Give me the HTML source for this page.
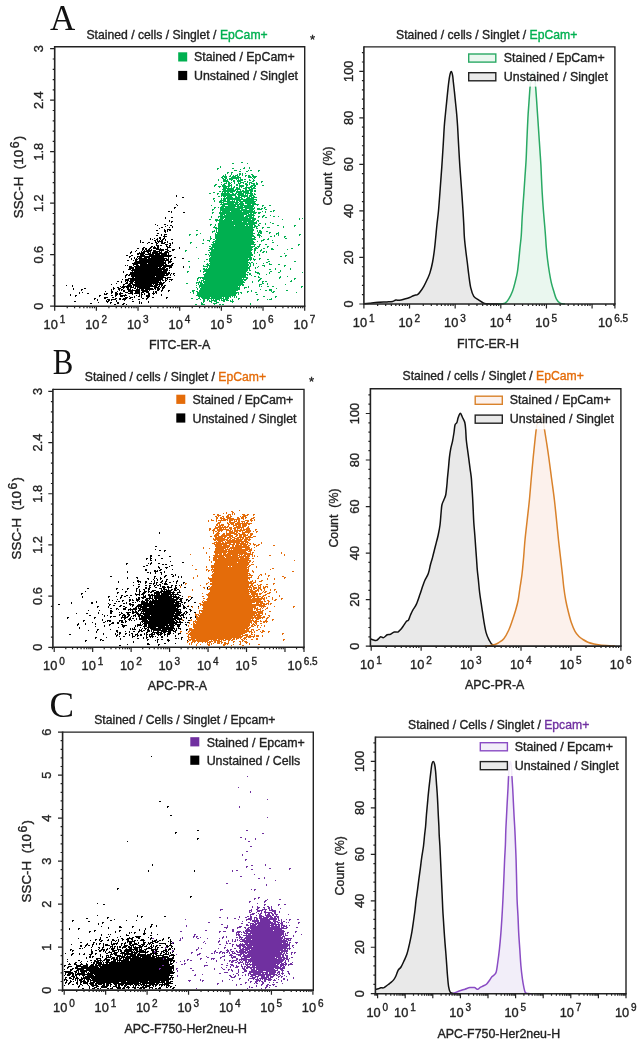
<!DOCTYPE html>
<html><head><meta charset="utf-8"><style>
html,body{margin:0;padding:0;background:#fff;}
body{width:639px;height:1042px;overflow:hidden;}
svg{display:block;filter:blur(0.35px);}
text{font-family:"Liberation Sans",sans-serif;stroke:#222;stroke-width:0.35px;}
.serif{font-family:"Liberation Serif",serif;stroke:none;}
</style></head><body>
<svg width="639" height="1042" viewBox="0 0 639 1042">
<rect width="639" height="1042" fill="#fff"/>
<text class="serif" x="50" y="30" font-size="35" fill="#111" font-family="Liberation Serif, serif" stroke="none">A</text>
<text class="serif" transform="translate(52.8 374.4) scale(0.88 1)" x="0" y="0" font-size="35" fill="#111" font-family="Liberation Serif, serif" stroke="none">B</text>
<text class="serif" transform="translate(49.6 716.6) scale(1.05 1)" x="0" y="0" font-size="35" fill="#111" font-family="Liberation Serif, serif" stroke="none">C</text>
<text x="86.44" y="38.6" font-size="12.2" fill="#222"><tspan fill="#222" stroke="#222">Stained / cells / Singlet / </tspan><tspan fill="#00b050" stroke="#00b050">EpCam+</tspan></text>
<text x="396.04" y="38.8" font-size="12.2" fill="#222"><tspan fill="#222" stroke="#222">Stained / cells / Singlet / </tspan><tspan fill="#00b050" stroke="#00b050">EpCam+</tspan></text>
<text x="84.84" y="380.8" font-size="12.2" fill="#222"><tspan fill="#222" stroke="#222">Stained / cells / Singlet / </tspan><tspan fill="#e46c0a" stroke="#e46c0a">EpCam+</tspan></text>
<text x="402.54" y="380.2" font-size="12.2" fill="#222"><tspan fill="#222" stroke="#222">Stained / cells / Singlet / </tspan><tspan fill="#e46c0a" stroke="#e46c0a">EpCam+</tspan></text>
<text x="94.24" y="724" font-size="12.2" fill="#222"><tspan fill="#222" stroke="#222">Stained / Cells / Singlet / Epcam+</tspan></text>
<text x="408.04" y="728.9" font-size="12.2" fill="#222"><tspan fill="#222" stroke="#222">Stained / Cells / Singlet / </tspan><tspan fill="#7030a0" stroke="#7030a0">Epcam+</tspan></text>
<text x="309.9" y="43.8" font-size="13" fill="#222">*</text>
<text x="309" y="386.4" font-size="13" fill="#222">*</text>
<path d="M176 195h1v1h-1zM176 196h1v1h-1zM182 197h2v1h-2zM176 204h1v1h-1zM177 205h1v1h-1zM174 207h2v1h-2zM174 208h1v1h-1zM168 211h2v1h-2zM171 211h1v1h-1zM171 212h1v1h-1zM183 212h2v1h-2zM165 217h1v1h-1zM171 217h2v1h-2zM165 218h1v1h-1zM169 220h1v1h-1zM169 221h1v1h-1zM171 221h2v1h-2zM171 222h1v1h-1zM155 224h1v1h-1zM164 224h2v1h-2zM157 225h1v1h-1zM167 225h1v1h-1zM170 225h2v1h-2zM165 226h1v1h-1zM172 226h1v1h-1zM161 227h2v1h-2zM169 227h1v1h-1zM172 227h1v1h-1zM159 228h1v1h-1zM164 229h1v1h-1zM167 229h4v1h-4zM156 230h2v1h-2zM164 230h2v1h-2zM167 230h1v1h-1zM169 230h2v1h-2zM164 231h2v1h-2zM167 231h1v1h-1zM165 232h1v1h-1zM157 233h2v1h-2zM161 234h1v1h-1zM164 234h3v1h-3zM156 235h2v1h-2zM161 235h1v1h-1zM164 235h1v1h-1zM163 236h4v1h-4zM159 237h2v1h-2zM164 237h1v1h-1zM150 238h1v1h-1zM154 238h1v1h-1zM157 238h1v1h-1zM159 238h2v1h-2zM163 238h2v1h-2zM150 239h1v1h-1zM152 239h1v1h-1zM156 239h2v1h-2zM160 239h1v1h-1zM162 239h2v1h-2zM165 239h1v1h-1zM171 239h2v1h-2zM140 240h1v1h-1zM154 240h2v1h-2zM157 240h1v1h-1zM159 240h1v1h-1zM161 240h2v1h-2zM165 240h1v1h-1zM140 241h1v1h-1zM155 241h1v1h-1zM157 241h6v1h-6zM167 241h1v1h-1zM140 242h1v1h-1zM142 242h2v1h-2zM148 242h2v1h-2zM155 242h2v1h-2zM158 242h1v1h-1zM161 242h2v1h-2zM164 242h2v1h-2zM167 242h1v1h-1zM172 242h1v1h-1zM147 243h1v1h-1zM151 243h2v1h-2zM156 243h2v1h-2zM161 243h4v1h-4zM169 243h2v1h-2zM172 243h1v1h-1zM156 244h1v1h-1zM165 244h3v1h-3zM170 244h1v1h-1zM156 245h3v1h-3zM160 245h2v1h-2zM166 245h1v1h-1zM169 245h2v1h-2zM151 246h2v1h-2zM154 246h1v1h-1zM157 246h2v1h-2zM166 246h2v1h-2zM169 246h1v1h-1zM143 247h2v1h-2zM150 247h2v1h-2zM153 247h3v1h-3zM157 247h2v1h-2zM167 247h4v1h-4zM179 247h1v1h-1zM137 248h2v1h-2zM142 248h2v1h-2zM145 248h2v1h-2zM149 248h2v1h-2zM153 248h6v1h-6zM160 248h1v1h-1zM167 248h1v1h-1zM179 248h1v1h-1zM142 249h2v1h-2zM145 249h2v1h-2zM148 249h2v1h-2zM151 249h1v1h-1zM156 249h8v1h-8zM165 249h3v1h-3zM172 249h3v1h-3zM136 250h1v1h-1zM142 250h1v1h-1zM144 250h1v1h-1zM146 250h6v1h-6zM153 250h3v1h-3zM159 250h5v1h-5zM167 250h2v1h-2zM172 250h2v1h-2zM131 251h1v1h-1zM135 251h1v1h-1zM141 251h1v1h-1zM143 251h8v1h-8zM153 251h7v1h-7zM161 251h1v1h-1zM165 251h3v1h-3zM169 251h2v1h-2zM130 252h2v1h-2zM139 252h1v1h-1zM141 252h4v1h-4zM147 252h2v1h-2zM150 252h1v1h-1zM152 252h6v1h-6zM159 252h3v1h-3zM164 252h5v1h-5zM130 253h1v1h-1zM137 253h8v1h-8zM148 253h3v1h-3zM152 253h15v1h-15zM168 253h1v1h-1zM137 254h2v1h-2zM140 254h4v1h-4zM145 254h9v1h-9zM155 254h5v1h-5zM161 254h6v1h-6zM168 254h1v1h-1zM126 255h2v1h-2zM131 255h2v1h-2zM140 255h5v1h-5zM149 255h23v1h-23zM129 256h2v1h-2zM137 256h34v1h-34zM129 257h1v1h-1zM134 257h1v1h-1zM137 257h1v1h-1zM139 257h3v1h-3zM144 257h6v1h-6zM151 257h13v1h-13zM168 257h1v1h-1zM174 257h2v1h-2zM131 258h1v1h-1zM134 258h1v1h-1zM136 258h1v1h-1zM138 258h9v1h-9zM148 258h19v1h-19zM168 258h1v1h-1zM171 258h1v1h-1zM182 258h2v1h-2zM131 259h1v1h-1zM135 259h3v1h-3zM139 259h26v1h-26zM166 259h3v1h-3zM170 259h2v1h-2zM127 260h2v1h-2zM133 260h1v1h-1zM135 260h2v1h-2zM139 260h30v1h-30zM170 260h1v1h-1zM135 261h29v1h-29zM165 261h1v1h-1zM168 261h4v1h-4zM134 262h32v1h-32zM168 262h3v1h-3zM132 263h15v1h-15zM148 263h18v1h-18zM168 263h1v1h-1zM172 263h2v1h-2zM133 264h5v1h-5zM140 264h24v1h-24zM165 264h2v1h-2zM171 264h2v1h-2zM125 265h1v1h-1zM127 265h1v1h-1zM133 265h1v1h-1zM136 265h3v1h-3zM140 265h33v1h-33zM129 266h3v1h-3zM134 266h28v1h-28zM163 266h9v1h-9zM183 266h1v1h-1zM129 267h5v1h-5zM135 267h23v1h-23zM159 267h2v1h-2zM162 267h4v1h-4zM169 267h3v1h-3zM183 267h1v1h-1zM129 268h5v1h-5zM135 268h30v1h-30zM166 268h2v1h-2zM169 268h1v1h-1zM128 269h3v1h-3zM132 269h36v1h-36zM131 270h31v1h-31zM163 270h5v1h-5zM169 270h1v1h-1zM123 271h1v1h-1zM132 271h1v1h-1zM134 271h33v1h-33zM123 272h1v1h-1zM130 272h37v1h-37zM168 272h2v1h-2zM130 273h40v1h-40zM171 273h1v1h-1zM173 273h2v1h-2zM126 274h2v1h-2zM129 274h36v1h-36zM166 274h3v1h-3zM170 274h1v1h-1zM173 274h1v1h-1zM125 275h2v1h-2zM128 275h2v1h-2zM131 275h37v1h-37zM170 275h1v1h-1zM174 275h1v1h-1zM125 276h1v1h-1zM131 276h24v1h-24zM156 276h8v1h-8zM125 277h1v1h-1zM132 277h2v1h-2zM135 277h31v1h-31zM167 277h4v1h-4zM128 278h35v1h-35zM165 278h3v1h-3zM122 279h1v1h-1zM125 279h4v1h-4zM130 279h33v1h-33zM165 279h1v1h-1zM167 279h1v1h-1zM169 279h4v1h-4zM125 280h4v1h-4zM130 280h31v1h-31zM162 280h2v1h-2zM165 280h2v1h-2zM171 280h1v1h-1zM117 281h2v1h-2zM121 281h1v1h-1zM125 281h1v1h-1zM127 281h1v1h-1zM129 281h5v1h-5zM135 281h24v1h-24zM160 281h1v1h-1zM165 281h1v1h-1zM169 281h1v1h-1zM121 282h1v1h-1zM126 282h2v1h-2zM130 282h3v1h-3zM134 282h28v1h-28zM163 282h2v1h-2zM116 283h1v1h-1zM125 283h3v1h-3zM129 283h4v1h-4zM135 283h23v1h-23zM159 283h5v1h-5zM111 284h1v1h-1zM123 284h2v1h-2zM128 284h3v1h-3zM132 284h20v1h-20zM153 284h1v1h-1zM155 284h8v1h-8zM66 285h1v1h-1zM72 285h1v1h-1zM123 285h1v1h-1zM127 285h5v1h-5zM133 285h20v1h-20zM154 285h4v1h-4zM159 285h1v1h-1zM161 285h2v1h-2zM164 285h2v1h-2zM72 286h1v1h-1zM120 286h1v1h-1zM122 286h10v1h-10zM133 286h1v1h-1zM135 286h22v1h-22zM158 286h2v1h-2zM161 286h1v1h-1zM163 286h2v1h-2zM113 287h1v1h-1zM117 287h2v1h-2zM121 287h4v1h-4zM126 287h3v1h-3zM130 287h4v1h-4zM135 287h1v1h-1zM137 287h13v1h-13zM154 287h5v1h-5zM160 287h1v1h-1zM162 287h3v1h-3zM73 288h1v1h-1zM84 288h2v1h-2zM113 288h2v1h-2zM118 288h3v1h-3zM123 288h1v1h-1zM127 288h2v1h-2zM130 288h1v1h-1zM134 288h2v1h-2zM137 288h1v1h-1zM139 288h14v1h-14zM154 288h2v1h-2zM157 288h3v1h-3zM162 288h2v1h-2zM73 289h1v1h-1zM81 289h2v1h-2zM111 289h1v1h-1zM113 289h1v1h-1zM118 289h2v1h-2zM121 289h2v1h-2zM127 289h4v1h-4zM132 289h1v1h-1zM136 289h4v1h-4zM141 289h3v1h-3zM145 289h9v1h-9zM155 289h1v1h-1zM157 289h3v1h-3zM162 289h1v1h-1zM81 290h1v1h-1zM111 290h1v1h-1zM119 290h1v1h-1zM121 290h1v1h-1zM123 290h2v1h-2zM128 290h12v1h-12zM141 290h7v1h-7zM149 290h1v1h-1zM157 290h2v1h-2zM161 290h2v1h-2zM168 290h2v1h-2zM105 291h1v1h-1zM111 291h2v1h-2zM117 291h1v1h-1zM123 291h2v1h-2zM128 291h5v1h-5zM135 291h5v1h-5zM142 291h7v1h-7zM153 291h1v1h-1zM155 291h2v1h-2zM161 291h1v1h-1zM168 291h1v1h-1zM79 292h1v1h-1zM82 292h1v1h-1zM111 292h2v1h-2zM115 292h2v1h-2zM120 292h1v1h-1zM125 292h3v1h-3zM130 292h3v1h-3zM135 292h5v1h-5zM141 292h3v1h-3zM146 292h3v1h-3zM153 292h1v1h-1zM155 292h2v1h-2zM79 293h1v1h-1zM87 293h2v1h-2zM104 293h1v1h-1zM106 293h2v1h-2zM111 293h1v1h-1zM115 293h3v1h-3zM119 293h4v1h-4zM128 293h5v1h-5zM134 293h6v1h-6zM141 293h1v1h-1zM144 293h1v1h-1zM148 293h2v1h-2zM152 293h3v1h-3zM156 293h1v1h-1zM70 294h1v1h-1zM104 294h3v1h-3zM115 294h3v1h-3zM119 294h2v1h-2zM125 294h1v1h-1zM132 294h1v1h-1zM139 294h1v1h-1zM141 294h2v1h-2zM144 294h1v1h-1zM148 294h2v1h-2zM153 294h1v1h-1zM161 294h1v1h-1zM70 295h1v1h-1zM75 295h2v1h-2zM99 295h2v1h-2zM111 295h2v1h-2zM115 295h2v1h-2zM120 295h7v1h-7zM136 295h1v1h-1zM139 295h1v1h-1zM141 295h1v1h-1zM146 295h4v1h-4zM161 295h1v1h-1zM75 296h1v1h-1zM99 296h1v1h-1zM115 296h1v1h-1zM120 296h3v1h-3zM124 296h1v1h-1zM129 296h1v1h-1zM134 296h1v1h-1zM138 296h2v1h-2zM141 296h1v1h-1zM146 296h4v1h-4zM104 297h4v1h-4zM112 297h2v1h-2zM125 297h3v1h-3zM130 297h3v1h-3zM134 297h1v1h-1zM141 297h1v1h-1zM147 297h2v1h-2zM152 297h2v1h-2zM166 297h2v1h-2zM94 298h2v1h-2zM104 298h2v1h-2zM115 298h2v1h-2zM119 298h2v1h-2zM123 298h4v1h-4zM129 298h2v1h-2zM142 298h2v1h-2zM146 298h2v1h-2zM166 298h1v1h-1zM94 299h1v1h-1zM97 299h1v1h-1zM107 299h3v1h-3zM111 299h5v1h-5zM119 299h2v1h-2zM122 299h4v1h-4zM132 299h1v1h-1zM138 299h2v1h-2zM146 299h1v1h-1zM97 300h1v1h-1zM106 300h1v1h-1zM108 300h2v1h-2zM111 300h1v1h-1zM116 300h1v1h-1zM124 300h1v1h-1zM74 301h2v1h-2zM106 301h3v1h-3zM116 301h1v1h-1zM132 301h2v1h-2zM139 301h1v1h-1zM148 301h1v1h-1zM98 302h1v1h-1zM107 302h1v1h-1zM110 302h2v1h-2zM117 302h2v1h-2zM139 302h1v1h-1zM141 302h1v1h-1zM148 302h1v1h-1zM90 303h2v1h-2zM110 303h1v1h-1zM117 303h2v1h-2zM123 303h2v1h-2zM139 303h1v1h-1zM141 303h1v1h-1zM114 304h2v1h-2zM122 304h2v1h-2zM126 304h1v1h-1z" fill="#000" shape-rendering="crispEdges"/>
<path d="M241 162h2v1h-2zM232 163h2v1h-2zM247 163h1v1h-1zM220 166h1v1h-1zM220 167h1v1h-1zM244 167h1v1h-1zM249 167h1v1h-1zM217 168h2v1h-2zM232 168h2v1h-2zM243 168h2v1h-2zM249 168h1v1h-1zM217 169h1v1h-1zM240 169h1v1h-1zM234 170h3v1h-3zM248 170h1v1h-1zM250 170h2v1h-2zM258 170h2v1h-2zM239 171h2v1h-2zM246 171h2v1h-2zM258 171h1v1h-1zM227 172h2v1h-2zM231 172h2v1h-2zM227 173h1v1h-1zM231 173h1v1h-1zM239 173h2v1h-2zM242 173h1v1h-1zM245 173h1v1h-1zM225 174h1v1h-1zM231 174h1v1h-1zM237 174h1v1h-1zM239 174h2v1h-2zM242 174h1v1h-1zM251 174h2v1h-2zM223 175h1v1h-1zM225 175h1v1h-1zM230 175h1v1h-1zM233 175h1v1h-1zM235 175h3v1h-3zM239 175h1v1h-1zM242 175h1v1h-1zM245 175h2v1h-2zM248 175h2v1h-2zM252 175h2v1h-2zM222 176h5v1h-5zM229 176h2v1h-2zM232 176h4v1h-4zM237 176h2v1h-2zM245 176h1v1h-1zM248 176h3v1h-3zM252 176h5v1h-5zM221 177h2v1h-2zM224 177h3v1h-3zM231 177h10v1h-10zM248 177h4v1h-4zM253 177h3v1h-3zM222 178h2v1h-2zM225 178h2v1h-2zM229 178h10v1h-10zM240 178h1v1h-1zM252 178h1v1h-1zM254 178h1v1h-1zM218 179h1v1h-1zM223 179h3v1h-3zM227 179h1v1h-1zM229 179h4v1h-4zM236 179h1v1h-1zM238 179h1v1h-1zM240 179h3v1h-3zM244 179h2v1h-2zM249 179h1v1h-1zM253 179h1v1h-1zM218 180h1v1h-1zM223 180h5v1h-5zM231 180h1v1h-1zM233 180h2v1h-2zM237 180h6v1h-6zM249 180h2v1h-2zM253 180h2v1h-2zM223 181h6v1h-6zM233 181h2v1h-2zM237 181h4v1h-4zM244 181h2v1h-2zM247 181h1v1h-1zM252 181h2v1h-2zM261 181h2v1h-2zM221 182h1v1h-1zM226 182h1v1h-1zM228 182h2v1h-2zM231 182h1v1h-1zM234 182h1v1h-1zM238 182h1v1h-1zM240 182h4v1h-4zM247 182h1v1h-1zM249 182h3v1h-3zM256 182h1v1h-1zM261 182h1v1h-1zM224 183h3v1h-3zM228 183h3v1h-3zM234 183h1v1h-1zM238 183h3v1h-3zM243 183h1v1h-1zM245 183h2v1h-2zM249 183h1v1h-1zM251 183h4v1h-4zM256 183h2v1h-2zM215 184h2v1h-2zM221 184h1v1h-1zM223 184h2v1h-2zM228 184h2v1h-2zM231 184h1v1h-1zM236 184h2v1h-2zM239 184h1v1h-1zM245 184h3v1h-3zM249 184h1v1h-1zM253 184h2v1h-2zM256 184h2v1h-2zM214 185h2v1h-2zM222 185h4v1h-4zM228 185h4v1h-4zM236 185h2v1h-2zM239 185h5v1h-5zM246 185h2v1h-2zM251 185h5v1h-5zM262 185h2v1h-2zM214 186h1v1h-1zM218 186h3v1h-3zM222 186h8v1h-8zM231 186h1v1h-1zM234 186h1v1h-1zM239 186h5v1h-5zM246 186h1v1h-1zM250 186h3v1h-3zM254 186h2v1h-2zM219 187h1v1h-1zM223 187h4v1h-4zM228 187h1v1h-1zM231 187h1v1h-1zM233 187h2v1h-2zM236 187h2v1h-2zM239 187h1v1h-1zM241 187h1v1h-1zM245 187h7v1h-7zM253 187h2v1h-2zM223 188h11v1h-11zM236 188h4v1h-4zM243 188h4v1h-4zM248 188h2v1h-2zM251 188h5v1h-5zM222 189h4v1h-4zM227 189h7v1h-7zM235 189h6v1h-6zM245 189h2v1h-2zM249 189h4v1h-4zM223 190h13v1h-13zM237 190h1v1h-1zM240 190h1v1h-1zM242 190h2v1h-2zM245 190h8v1h-8zM254 190h2v1h-2zM219 191h2v1h-2zM222 191h13v1h-13zM236 191h13v1h-13zM250 191h3v1h-3zM254 191h2v1h-2zM213 192h2v1h-2zM222 192h1v1h-1zM224 192h2v1h-2zM227 192h2v1h-2zM230 192h3v1h-3zM236 192h6v1h-6zM243 192h6v1h-6zM250 192h2v1h-2zM209 193h2v1h-2zM217 193h2v1h-2zM221 193h9v1h-9zM232 193h2v1h-2zM235 193h2v1h-2zM238 193h6v1h-6zM245 193h8v1h-8zM254 193h1v1h-1zM217 194h1v1h-1zM221 194h15v1h-15zM237 194h7v1h-7zM245 194h1v1h-1zM247 194h1v1h-1zM250 194h3v1h-3zM254 194h2v1h-2zM221 195h15v1h-15zM238 195h10v1h-10zM249 195h5v1h-5zM218 196h2v1h-2zM221 196h1v1h-1zM223 196h3v1h-3zM227 196h5v1h-5zM235 196h2v1h-2zM238 196h2v1h-2zM241 196h7v1h-7zM249 196h3v1h-3zM253 196h2v1h-2zM224 197h1v1h-1zM226 197h7v1h-7zM235 197h7v1h-7zM244 197h1v1h-1zM247 197h3v1h-3zM251 197h6v1h-6zM213 198h2v1h-2zM221 198h1v1h-1zM223 198h17v1h-17zM241 198h2v1h-2zM246 198h8v1h-8zM213 199h1v1h-1zM221 199h1v1h-1zM223 199h3v1h-3zM227 199h30v1h-30zM214 200h1v1h-1zM220 200h6v1h-6zM227 200h3v1h-3zM232 200h1v1h-1zM234 200h1v1h-1zM236 200h5v1h-5zM243 200h11v1h-11zM256 200h1v1h-1zM214 201h1v1h-1zM219 201h3v1h-3zM223 201h12v1h-12zM236 201h2v1h-2zM239 201h17v1h-17zM219 202h5v1h-5zM227 202h12v1h-12zM240 202h3v1h-3zM245 202h10v1h-10zM221 203h1v1h-1zM223 203h11v1h-11zM235 203h3v1h-3zM239 203h5v1h-5zM245 203h11v1h-11zM220 204h24v1h-24zM247 204h4v1h-4zM252 204h7v1h-7zM211 205h1v1h-1zM222 205h3v1h-3zM228 205h8v1h-8zM237 205h2v1h-2zM240 205h14v1h-14zM257 205h1v1h-1zM262 205h2v1h-2zM269 205h2v1h-2zM221 206h22v1h-22zM244 206h10v1h-10zM262 206h1v1h-1zM214 207h2v1h-2zM218 207h1v1h-1zM220 207h4v1h-4zM225 207h10v1h-10zM237 207h16v1h-16zM254 207h1v1h-1zM264 207h2v1h-2zM214 208h1v1h-1zM220 208h23v1h-23zM245 208h10v1h-10zM257 208h3v1h-3zM261 208h2v1h-2zM264 208h1v1h-1zM212 209h2v1h-2zM220 209h20v1h-20zM241 209h6v1h-6zM249 209h5v1h-5zM257 209h5v1h-5zM265 209h2v1h-2zM212 210h1v1h-1zM220 210h33v1h-33zM254 210h1v1h-1zM273 210h2v1h-2zM220 211h1v1h-1zM222 211h8v1h-8zM231 211h11v1h-11zM243 211h12v1h-12zM262 211h1v1h-1zM265 211h1v1h-1zM270 211h2v1h-2zM273 211h1v1h-1zM212 212h2v1h-2zM219 212h38v1h-38zM258 212h3v1h-3zM265 212h1v1h-1zM212 213h1v1h-1zM219 213h30v1h-30zM250 213h2v1h-2zM253 213h3v1h-3zM258 213h2v1h-2zM220 214h5v1h-5zM226 214h21v1h-21zM248 214h6v1h-6zM220 215h3v1h-3zM224 215h20v1h-20zM246 215h9v1h-9zM263 215h2v1h-2zM270 215h1v1h-1zM211 216h1v1h-1zM218 216h26v1h-26zM245 216h7v1h-7zM253 216h1v1h-1zM258 216h2v1h-2zM262 216h2v1h-2zM273 216h2v1h-2zM278 216h1v1h-1zM211 217h1v1h-1zM218 217h1v1h-1zM220 217h28v1h-28zM249 217h5v1h-5zM258 217h1v1h-1zM262 217h1v1h-1zM265 217h2v1h-2zM220 218h4v1h-4zM225 218h31v1h-31zM299 218h1v1h-1zM302 218h1v1h-1zM209 219h2v1h-2zM215 219h3v1h-3zM219 219h4v1h-4zM224 219h27v1h-27zM252 219h4v1h-4zM282 219h1v1h-1zM299 219h1v1h-1zM215 220h17v1h-17zM233 220h22v1h-22zM257 220h2v1h-2zM216 221h1v1h-1zM219 221h23v1h-23zM243 221h11v1h-11zM256 221h1v1h-1zM258 221h1v1h-1zM219 222h28v1h-28zM248 222h9v1h-9zM270 222h1v1h-1zM218 223h39v1h-39zM259 223h2v1h-2zM265 223h1v1h-1zM272 223h2v1h-2zM210 224h2v1h-2zM215 224h1v1h-1zM218 224h37v1h-37zM258 224h1v1h-1zM265 224h1v1h-1zM210 225h1v1h-1zM215 225h1v1h-1zM218 225h16v1h-16zM235 225h10v1h-10zM246 225h2v1h-2zM249 225h4v1h-4zM254 225h2v1h-2zM258 225h2v1h-2zM277 225h2v1h-2zM294 225h2v1h-2zM214 226h1v1h-1zM218 226h35v1h-35zM254 226h4v1h-4zM283 226h1v1h-1zM294 226h1v1h-1zM213 227h4v1h-4zM218 227h37v1h-37zM256 227h1v1h-1zM262 227h2v1h-2zM267 227h3v1h-3zM283 227h1v1h-1zM215 228h38v1h-38zM256 228h2v1h-2zM262 228h1v1h-1zM216 229h1v1h-1zM218 229h36v1h-36zM196 230h2v1h-2zM214 230h1v1h-1zM216 230h1v1h-1zM218 230h36v1h-36zM257 230h1v1h-1zM259 230h2v1h-2zM212 231h3v1h-3zM216 231h1v1h-1zM218 231h35v1h-35zM257 231h1v1h-1zM259 231h3v1h-3zM266 231h2v1h-2zM212 232h1v1h-1zM216 232h37v1h-37zM258 232h4v1h-4zM269 232h2v1h-2zM278 232h1v1h-1zM200 233h1v1h-1zM215 233h1v1h-1zM217 233h38v1h-38zM258 233h1v1h-1zM260 233h2v1h-2zM269 233h1v1h-1zM276 233h3v1h-3zM189 234h2v1h-2zM196 234h2v1h-2zM215 234h38v1h-38zM257 234h3v1h-3zM276 234h1v1h-1zM278 234h1v1h-1zM299 234h2v1h-2zM189 235h1v1h-1zM196 235h1v1h-1zM215 235h39v1h-39zM257 235h4v1h-4zM274 235h1v1h-1zM278 235h1v1h-1zM299 235h1v1h-1zM210 236h1v1h-1zM215 236h40v1h-40zM259 236h1v1h-1zM261 236h1v1h-1zM270 236h2v1h-2zM274 236h1v1h-1zM284 236h2v1h-2zM210 237h1v1h-1zM215 237h37v1h-37zM254 237h2v1h-2zM259 237h1v1h-1zM284 237h1v1h-1zM210 238h2v1h-2zM215 238h40v1h-40zM268 238h1v1h-1zM285 238h2v1h-2zM203 239h1v1h-1zM210 239h1v1h-1zM213 239h2v1h-2zM216 239h40v1h-40zM263 239h2v1h-2zM267 239h2v1h-2zM203 240h1v1h-1zM207 240h3v1h-3zM215 240h38v1h-38zM261 240h3v1h-3zM272 240h1v1h-1zM209 241h1v1h-1zM213 241h41v1h-41zM257 241h1v1h-1zM261 241h1v1h-1zM190 242h2v1h-2zM212 242h2v1h-2zM215 242h40v1h-40zM272 242h2v1h-2zM190 243h1v1h-1zM202 243h2v1h-2zM213 243h41v1h-41zM211 244h45v1h-45zM259 244h2v1h-2zM265 244h2v1h-2zM298 244h2v1h-2zM212 245h39v1h-39zM254 245h1v1h-1zM259 245h1v1h-1zM277 245h1v1h-1zM298 245h1v1h-1zM209 246h2v1h-2zM212 246h43v1h-43zM257 246h3v1h-3zM267 246h2v1h-2zM196 247h1v1h-1zM211 247h42v1h-42zM255 247h2v1h-2zM258 247h1v1h-1zM267 247h1v1h-1zM209 248h4v1h-4zM214 248h38v1h-38zM254 248h4v1h-4zM263 248h2v1h-2zM271 248h2v1h-2zM291 248h2v1h-2zM210 249h43v1h-43zM254 249h2v1h-2zM261 249h1v1h-1zM271 249h3v1h-3zM287 249h1v1h-1zM185 250h2v1h-2zM208 250h2v1h-2zM211 250h41v1h-41zM254 250h2v1h-2zM260 250h2v1h-2zM185 251h1v1h-1zM211 251h40v1h-40zM254 251h1v1h-1zM260 251h1v1h-1zM263 251h2v1h-2zM266 251h1v1h-1zM209 252h43v1h-43zM254 252h1v1h-1zM257 252h1v1h-1zM262 252h2v1h-2zM266 252h1v1h-1zM210 253h42v1h-42zM254 253h1v1h-1zM284 253h1v1h-1zM205 254h2v1h-2zM208 254h1v1h-1zM210 254h43v1h-43zM259 254h1v1h-1zM209 255h44v1h-44zM259 255h1v1h-1zM285 255h2v1h-2zM209 256h1v1h-1zM211 256h40v1h-40zM254 256h1v1h-1zM280 256h2v1h-2zM285 256h1v1h-1zM210 257h42v1h-42zM198 258h1v1h-1zM209 258h39v1h-39zM249 258h3v1h-3zM253 258h1v1h-1zM259 258h2v1h-2zM206 259h2v1h-2zM209 259h43v1h-43zM253 259h3v1h-3zM259 259h1v1h-1zM267 259h2v1h-2zM209 260h40v1h-40zM250 260h1v1h-1zM254 260h1v1h-1zM188 261h2v1h-2zM204 261h1v1h-1zM209 261h39v1h-39zM268 261h2v1h-2zM294 261h2v1h-2zM210 262h40v1h-40zM251 262h2v1h-2zM266 262h2v1h-2zM207 263h1v1h-1zM209 263h39v1h-39zM249 263h2v1h-2zM253 263h1v1h-1zM256 263h1v1h-1zM263 263h1v1h-1zM269 263h1v1h-1zM206 264h3v1h-3zM210 264h39v1h-39zM250 264h1v1h-1zM253 264h1v1h-1zM269 264h3v1h-3zM278 264h2v1h-2zM203 265h1v1h-1zM207 265h42v1h-42zM250 265h1v1h-1zM253 265h1v1h-1zM262 265h3v1h-3zM284 265h2v1h-2zM189 266h1v1h-1zM203 266h5v1h-5zM209 266h39v1h-39zM249 266h2v1h-2zM258 266h1v1h-1zM264 266h1v1h-1zM284 266h1v1h-1zM189 267h1v1h-1zM207 267h1v1h-1zM209 267h41v1h-41zM255 267h1v1h-1zM257 267h1v1h-1zM203 268h2v1h-2zM206 268h1v1h-1zM208 268h42v1h-42zM255 268h1v1h-1zM275 268h1v1h-1zM290 268h1v1h-1zM203 269h45v1h-45zM249 269h1v1h-1zM269 269h2v1h-2zM275 269h1v1h-1zM290 269h1v1h-1zM200 270h1v1h-1zM204 270h44v1h-44zM249 270h2v1h-2zM280 270h1v1h-1zM187 271h2v1h-2zM200 271h1v1h-1zM203 271h44v1h-44zM255 271h1v1h-1zM270 271h2v1h-2zM280 271h1v1h-1zM187 272h1v1h-1zM203 272h1v1h-1zM206 272h40v1h-40zM247 272h2v1h-2zM255 272h4v1h-4zM269 272h1v1h-1zM278 272h2v1h-2zM302 272h1v1h-1zM205 273h41v1h-41zM249 273h2v1h-2zM257 273h3v1h-3zM269 273h1v1h-1zM203 274h45v1h-45zM249 274h2v1h-2zM259 274h1v1h-1zM266 274h1v1h-1zM204 275h42v1h-42zM247 275h1v1h-1zM251 275h1v1h-1zM204 276h42v1h-42zM254 276h2v1h-2zM258 276h1v1h-1zM280 276h1v1h-1zM287 276h1v1h-1zM198 277h50v1h-50zM258 277h2v1h-2zM279 277h2v1h-2zM197 278h2v1h-2zM200 278h1v1h-1zM202 278h40v1h-40zM243 278h1v1h-1zM246 278h2v1h-2zM260 278h2v1h-2zM279 278h1v1h-1zM294 278h2v1h-2zM197 279h1v1h-1zM203 279h44v1h-44zM259 279h2v1h-2zM294 279h1v1h-1zM197 280h1v1h-1zM201 280h3v1h-3zM205 280h38v1h-38zM244 280h2v1h-2zM258 280h2v1h-2zM291 280h1v1h-1zM199 281h1v1h-1zM201 281h1v1h-1zM203 281h41v1h-41zM252 281h1v1h-1zM258 281h1v1h-1zM262 281h2v1h-2zM265 281h2v1h-2zM290 281h2v1h-2zM196 282h6v1h-6zM203 282h42v1h-42zM252 282h1v1h-1zM262 282h1v1h-1zM186 283h2v1h-2zM196 283h1v1h-1zM198 283h1v1h-1zM200 283h3v1h-3zM204 283h39v1h-39zM262 283h2v1h-2zM267 283h1v1h-1zM198 284h1v1h-1zM200 284h44v1h-44zM259 284h3v1h-3zM267 284h1v1h-1zM285 284h1v1h-1zM196 285h1v1h-1zM199 285h42v1h-42zM242 285h2v1h-2zM259 285h1v1h-1zM199 286h39v1h-39zM239 286h1v1h-1zM248 286h1v1h-1zM259 286h1v1h-1zM261 286h1v1h-1zM267 286h2v1h-2zM272 286h2v1h-2zM301 286h2v1h-2zM196 287h1v1h-1zM199 287h1v1h-1zM201 287h39v1h-39zM244 287h3v1h-3zM248 287h1v1h-1zM301 287h1v1h-1zM197 288h1v1h-1zM200 288h40v1h-40zM244 288h1v1h-1zM276 288h1v1h-1zM197 289h1v1h-1zM200 289h40v1h-40zM260 289h1v1h-1zM269 289h3v1h-3zM192 290h3v1h-3zM199 290h39v1h-39zM251 290h1v1h-1zM265 290h2v1h-2zM269 290h3v1h-3zM286 290h2v1h-2zM192 291h2v1h-2zM196 291h2v1h-2zM199 291h37v1h-37zM247 291h2v1h-2zM251 291h1v1h-1zM271 291h1v1h-1zM273 291h2v1h-2zM190 292h1v1h-1zM193 292h1v1h-1zM197 292h42v1h-42zM240 292h2v1h-2zM247 292h1v1h-1zM255 292h2v1h-2zM272 292h2v1h-2zM296 292h1v1h-1zM193 293h1v1h-1zM197 293h40v1h-40zM238 293h1v1h-1zM241 293h1v1h-1zM197 294h39v1h-39zM238 294h1v1h-1zM256 294h2v1h-2zM196 295h40v1h-40zM198 296h33v1h-33zM232 296h1v1h-1zM234 296h1v1h-1zM236 296h1v1h-1zM263 296h2v1h-2zM275 296h2v1h-2zM199 297h1v1h-1zM201 297h9v1h-9zM211 297h11v1h-11zM223 297h1v1h-1zM225 297h4v1h-4zM230 297h1v1h-1zM234 297h1v1h-1zM236 297h1v1h-1zM275 297h1v1h-1zM191 298h2v1h-2zM198 298h2v1h-2zM202 298h22v1h-22zM225 298h4v1h-4zM238 298h2v1h-2zM271 298h1v1h-1zM196 299h2v1h-2zM200 299h1v1h-1zM203 299h2v1h-2zM207 299h2v1h-2zM211 299h1v1h-1zM213 299h1v1h-1zM215 299h5v1h-5zM221 299h1v1h-1zM223 299h5v1h-5zM232 299h1v1h-1zM238 299h1v1h-1zM257 299h2v1h-2zM267 299h1v1h-1zM269 299h3v1h-3zM203 300h2v1h-2zM207 300h1v1h-1zM209 300h1v1h-1zM211 300h6v1h-6zM219 300h1v1h-1zM221 300h4v1h-4zM226 300h3v1h-3zM230 300h1v1h-1zM232 300h1v1h-1zM257 300h1v1h-1zM203 301h2v1h-2zM209 301h3v1h-3zM214 301h3v1h-3zM223 301h2v1h-2zM230 301h4v1h-4zM201 302h1v1h-1zM203 302h1v1h-1zM211 302h1v1h-1zM216 302h3v1h-3zM232 302h1v1h-1zM201 303h2v1h-2zM213 303h4v1h-4zM250 303h1v1h-1zM195 304h2v1h-2zM201 304h4v1h-4zM214 304h1v1h-1zM219 304h2v1h-2zM222 304h2v1h-2zM250 304h1v1h-1z" fill="#00b050" shape-rendering="crispEdges"/>
<path d="M159 532h1v1h-1zM159 533h1v1h-1zM155 546h2v1h-2zM155 549h1v1h-1zM159 550h2v1h-2zM164 550h2v1h-2zM164 551h1v1h-1zM150 555h2v1h-2zM158 555h2v1h-2zM150 556h2v1h-2zM169 556h2v1h-2zM150 557h1v1h-1zM146 558h2v1h-2zM150 558h2v1h-2zM161 558h2v1h-2zM146 559h1v1h-1zM150 559h1v1h-1zM155 559h1v1h-1zM150 560h2v1h-2zM155 560h1v1h-1zM170 561h1v1h-1zM151 562h1v1h-1zM182 562h2v1h-2zM126 563h2v1h-2zM148 563h1v1h-1zM150 563h2v1h-2zM158 563h2v1h-2zM126 564h1v1h-1zM150 564h1v1h-1zM162 564h2v1h-2zM165 564h2v1h-2zM146 565h2v1h-2zM171 565h2v1h-2zM143 566h2v1h-2zM158 566h1v1h-1zM169 566h1v1h-1zM158 567h2v1h-2zM165 567h3v1h-3zM159 568h1v1h-1zM166 568h1v1h-1zM145 569h2v1h-2zM160 569h2v1h-2zM172 569h1v1h-1zM145 570h2v1h-2zM154 570h2v1h-2zM157 570h1v1h-1zM159 570h2v1h-2zM127 571h1v1h-1zM154 571h4v1h-4zM164 571h1v1h-1zM127 572h1v1h-1zM147 572h2v1h-2zM150 572h1v1h-1zM155 572h1v1h-1zM160 572h2v1h-2zM164 572h1v1h-1zM150 573h1v1h-1zM155 573h1v1h-1zM161 573h1v1h-1zM161 574h1v1h-1zM171 574h2v1h-2zM175 574h1v1h-1zM165 575h2v1h-2zM173 575h1v1h-1zM175 575h1v1h-1zM110 576h2v1h-2zM154 576h2v1h-2zM164 576h2v1h-2zM172 576h2v1h-2zM178 576h1v1h-1zM181 576h1v1h-1zM127 577h1v1h-1zM136 577h2v1h-2zM154 577h1v1h-1zM160 577h1v1h-1zM164 577h1v1h-1zM178 577h1v1h-1zM181 577h1v1h-1zM127 578h1v1h-1zM137 578h1v1h-1zM147 578h2v1h-2zM154 578h1v1h-1zM156 578h1v1h-1zM160 578h2v1h-2zM148 579h1v1h-1zM153 579h1v1h-1zM157 579h1v1h-1zM160 579h1v1h-1zM166 579h2v1h-2zM137 580h2v1h-2zM154 580h1v1h-1zM157 580h1v1h-1zM162 580h1v1h-1zM166 580h1v1h-1zM177 580h1v1h-1zM118 581h1v1h-1zM137 581h4v1h-4zM145 581h2v1h-2zM151 581h1v1h-1zM154 581h1v1h-1zM161 581h2v1h-2zM165 581h2v1h-2zM173 581h1v1h-1zM176 581h2v1h-2zM118 582h1v1h-1zM133 582h1v1h-1zM138 582h1v1h-1zM140 582h1v1h-1zM145 582h2v1h-2zM154 582h1v1h-1zM156 582h2v1h-2zM160 582h2v1h-2zM165 582h1v1h-1zM169 582h2v1h-2zM176 582h1v1h-1zM183 582h2v1h-2zM145 583h1v1h-1zM149 583h3v1h-3zM153 583h2v1h-2zM156 583h1v1h-1zM162 583h1v1h-1zM164 583h3v1h-3zM176 583h1v1h-1zM183 583h1v1h-1zM138 584h2v1h-2zM153 584h1v1h-1zM156 584h1v1h-1zM159 584h2v1h-2zM164 584h4v1h-4zM181 584h1v1h-1zM133 585h1v1h-1zM145 585h2v1h-2zM149 585h2v1h-2zM154 585h2v1h-2zM157 585h2v1h-2zM160 585h1v1h-1zM171 585h2v1h-2zM175 585h2v1h-2zM179 585h1v1h-1zM181 585h1v1h-1zM138 586h2v1h-2zM149 586h1v1h-1zM154 586h1v1h-1zM160 586h1v1h-1zM162 586h3v1h-3zM167 586h2v1h-2zM171 586h1v1h-1zM175 586h1v1h-1zM138 587h1v1h-1zM145 587h2v1h-2zM149 587h2v1h-2zM155 587h2v1h-2zM162 587h4v1h-4zM167 587h5v1h-5zM175 587h2v1h-2zM184 587h2v1h-2zM207 587h1v1h-1zM87 588h2v1h-2zM116 588h2v1h-2zM127 588h2v1h-2zM136 588h2v1h-2zM145 588h2v1h-2zM148 588h2v1h-2zM159 588h3v1h-3zM163 588h2v1h-2zM168 588h1v1h-1zM174 588h3v1h-3zM207 588h1v1h-1zM116 589h1v1h-1zM122 589h1v1h-1zM127 589h1v1h-1zM136 589h1v1h-1zM139 589h1v1h-1zM143 589h2v1h-2zM148 589h2v1h-2zM161 589h1v1h-1zM163 589h4v1h-4zM168 589h1v1h-1zM171 589h2v1h-2zM174 589h2v1h-2zM177 589h2v1h-2zM136 590h1v1h-1zM139 590h1v1h-1zM144 590h1v1h-1zM148 590h1v1h-1zM152 590h4v1h-4zM161 590h2v1h-2zM164 590h1v1h-1zM166 590h6v1h-6zM174 590h3v1h-3zM179 590h1v1h-1zM85 591h1v1h-1zM125 591h2v1h-2zM136 591h1v1h-1zM139 591h2v1h-2zM144 591h3v1h-3zM148 591h2v1h-2zM151 591h3v1h-3zM156 591h3v1h-3zM160 591h11v1h-11zM173 591h1v1h-1zM179 591h1v1h-1zM117 592h2v1h-2zM125 592h1v1h-1zM139 592h1v1h-1zM143 592h3v1h-3zM148 592h1v1h-1zM150 592h2v1h-2zM154 592h8v1h-8zM163 592h12v1h-12zM177 592h4v1h-4zM81 593h2v1h-2zM117 593h1v1h-1zM135 593h1v1h-1zM139 593h1v1h-1zM142 593h3v1h-3zM154 593h6v1h-6zM161 593h10v1h-10zM172 593h2v1h-2zM177 593h1v1h-1zM81 594h1v1h-1zM135 594h5v1h-5zM141 594h3v1h-3zM148 594h2v1h-2zM151 594h2v1h-2zM154 594h1v1h-1zM156 594h4v1h-4zM161 594h18v1h-18zM121 595h2v1h-2zM126 595h2v1h-2zM130 595h2v1h-2zM136 595h1v1h-1zM139 595h1v1h-1zM143 595h1v1h-1zM145 595h1v1h-1zM148 595h21v1h-21zM170 595h2v1h-2zM173 595h1v1h-1zM175 595h1v1h-1zM179 595h2v1h-2zM82 596h1v1h-1zM108 596h2v1h-2zM116 596h1v1h-1zM121 596h1v1h-1zM124 596h2v1h-2zM143 596h3v1h-3zM149 596h2v1h-2zM152 596h1v1h-1zM154 596h23v1h-23zM178 596h1v1h-1zM182 596h1v1h-1zM82 597h1v1h-1zM108 597h1v1h-1zM120 597h2v1h-2zM129 597h1v1h-1zM138 597h2v1h-2zM141 597h5v1h-5zM149 597h2v1h-2zM152 597h1v1h-1zM154 597h18v1h-18zM173 597h7v1h-7zM191 597h2v1h-2zM120 598h1v1h-1zM136 598h1v1h-1zM138 598h2v1h-2zM142 598h2v1h-2zM146 598h7v1h-7zM154 598h20v1h-20zM176 598h3v1h-3zM180 598h3v1h-3zM191 598h1v1h-1zM109 599h1v1h-1zM117 599h1v1h-1zM129 599h2v1h-2zM132 599h1v1h-1zM136 599h4v1h-4zM145 599h3v1h-3zM149 599h1v1h-1zM152 599h2v1h-2zM155 599h2v1h-2zM158 599h20v1h-20zM179 599h3v1h-3zM186 599h2v1h-2zM190 599h1v1h-1zM109 600h1v1h-1zM112 600h1v1h-1zM122 600h2v1h-2zM129 600h2v1h-2zM132 600h2v1h-2zM136 600h3v1h-3zM142 600h1v1h-1zM145 600h4v1h-4zM150 600h1v1h-1zM152 600h25v1h-25zM180 600h2v1h-2zM186 600h1v1h-1zM188 600h2v1h-2zM208 600h1v1h-1zM96 601h1v1h-1zM116 601h1v1h-1zM118 601h2v1h-2zM122 601h1v1h-1zM129 601h1v1h-1zM137 601h1v1h-1zM139 601h1v1h-1zM141 601h4v1h-4zM146 601h2v1h-2zM149 601h26v1h-26zM176 601h6v1h-6zM188 601h1v1h-1zM208 601h1v1h-1zM71 602h1v1h-1zM91 602h2v1h-2zM96 602h1v1h-1zM126 602h1v1h-1zM132 602h2v1h-2zM135 602h1v1h-1zM141 602h7v1h-7zM149 602h30v1h-30zM181 602h2v1h-2zM184 602h2v1h-2zM194 602h2v1h-2zM71 603h1v1h-1zM91 603h2v1h-2zM108 603h1v1h-1zM114 603h2v1h-2zM123 603h2v1h-2zM126 603h1v1h-1zM129 603h2v1h-2zM141 603h33v1h-33zM175 603h6v1h-6zM184 603h1v1h-1zM58 604h2v1h-2zM109 604h2v1h-2zM129 604h5v1h-5zM138 604h15v1h-15zM154 604h25v1h-25zM180 604h1v1h-1zM182 604h1v1h-1zM109 605h1v1h-1zM113 605h2v1h-2zM120 605h2v1h-2zM130 605h1v1h-1zM132 605h2v1h-2zM137 605h5v1h-5zM143 605h38v1h-38zM183 605h1v1h-1zM188 605h1v1h-1zM97 606h2v1h-2zM108 606h1v1h-1zM119 606h2v1h-2zM123 606h2v1h-2zM132 606h1v1h-1zM136 606h45v1h-45zM183 606h2v1h-2zM187 606h2v1h-2zM191 606h1v1h-1zM198 606h1v1h-1zM97 607h1v1h-1zM108 607h1v1h-1zM125 607h2v1h-2zM135 607h2v1h-2zM138 607h1v1h-1zM140 607h7v1h-7zM149 607h27v1h-27zM177 607h2v1h-2zM183 607h3v1h-3zM198 607h1v1h-1zM110 608h2v1h-2zM116 608h2v1h-2zM123 608h3v1h-3zM130 608h1v1h-1zM133 608h4v1h-4zM138 608h3v1h-3zM142 608h36v1h-36zM183 608h2v1h-2zM186 608h1v1h-1zM116 609h1v1h-1zM118 609h1v1h-1zM123 609h3v1h-3zM128 609h9v1h-9zM139 609h42v1h-42zM189 609h2v1h-2zM88 610h1v1h-1zM99 610h1v1h-1zM110 610h2v1h-2zM128 610h1v1h-1zM130 610h1v1h-1zM132 610h1v1h-1zM135 610h1v1h-1zM138 610h3v1h-3zM142 610h37v1h-37zM180 610h1v1h-1zM190 610h2v1h-2zM110 611h3v1h-3zM132 611h2v1h-2zM135 611h2v1h-2zM138 611h1v1h-1zM141 611h40v1h-40zM185 611h2v1h-2zM190 611h1v1h-1zM98 612h1v1h-1zM110 612h2v1h-2zM119 612h1v1h-1zM121 612h1v1h-1zM126 612h5v1h-5zM132 612h6v1h-6zM141 612h1v1h-1zM143 612h1v1h-1zM145 612h30v1h-30zM176 612h6v1h-6zM184 612h1v1h-1zM186 612h2v1h-2zM194 612h2v1h-2zM76 613h1v1h-1zM86 613h2v1h-2zM98 613h1v1h-1zM110 613h2v1h-2zM121 613h2v1h-2zM127 613h2v1h-2zM132 613h2v1h-2zM136 613h3v1h-3zM140 613h41v1h-41zM183 613h2v1h-2zM186 613h1v1h-1zM102 614h1v1h-1zM119 614h2v1h-2zM123 614h2v1h-2zM127 614h3v1h-3zM135 614h1v1h-1zM137 614h4v1h-4zM143 614h31v1h-31zM175 614h5v1h-5zM181 614h3v1h-3zM185 614h1v1h-1zM189 614h1v1h-1zM89 615h2v1h-2zM104 615h1v1h-1zM107 615h1v1h-1zM119 615h1v1h-1zM122 615h4v1h-4zM128 615h2v1h-2zM133 615h3v1h-3zM138 615h5v1h-5zM144 615h6v1h-6zM151 615h33v1h-33zM104 616h1v1h-1zM110 616h2v1h-2zM113 616h3v1h-3zM122 616h1v1h-1zM124 616h2v1h-2zM127 616h2v1h-2zM131 616h1v1h-1zM133 616h1v1h-1zM135 616h1v1h-1zM138 616h2v1h-2zM141 616h37v1h-37zM180 616h1v1h-1zM183 616h1v1h-1zM195 616h1v1h-1zM213 616h1v1h-1zM67 617h2v1h-2zM94 617h2v1h-2zM110 617h1v1h-1zM121 617h7v1h-7zM130 617h1v1h-1zM139 617h1v1h-1zM141 617h32v1h-32zM174 617h5v1h-5zM181 617h1v1h-1zM183 617h2v1h-2zM186 617h1v1h-1zM190 617h2v1h-2zM195 617h1v1h-1zM67 618h1v1h-1zM94 618h1v1h-1zM121 618h1v1h-1zM124 618h2v1h-2zM129 618h2v1h-2zM132 618h2v1h-2zM136 618h1v1h-1zM139 618h43v1h-43zM186 618h1v1h-1zM190 618h1v1h-1zM102 619h1v1h-1zM124 619h1v1h-1zM128 619h3v1h-3zM136 619h1v1h-1zM139 619h8v1h-8zM148 619h28v1h-28zM177 619h5v1h-5zM83 620h2v1h-2zM102 620h1v1h-1zM107 620h4v1h-4zM119 620h4v1h-4zM125 620h1v1h-1zM129 620h1v1h-1zM131 620h1v1h-1zM134 620h1v1h-1zM142 620h6v1h-6zM149 620h25v1h-25zM175 620h2v1h-2zM179 620h1v1h-1zM183 620h1v1h-1zM188 620h2v1h-2zM83 621h1v1h-1zM105 621h1v1h-1zM107 621h1v1h-1zM109 621h2v1h-2zM119 621h1v1h-1zM121 621h2v1h-2zM125 621h2v1h-2zM141 621h34v1h-34zM176 621h2v1h-2zM179 621h2v1h-2zM92 622h1v1h-1zM103 622h2v1h-2zM112 622h2v1h-2zM117 622h2v1h-2zM121 622h3v1h-3zM125 622h1v1h-1zM140 622h1v1h-1zM142 622h1v1h-1zM144 622h39v1h-39zM185 622h1v1h-1zM187 622h2v1h-2zM78 623h1v1h-1zM85 623h1v1h-1zM95 623h1v1h-1zM111 623h3v1h-3zM117 623h2v1h-2zM140 623h1v1h-1zM143 623h34v1h-34zM180 623h1v1h-1zM77 624h2v1h-2zM85 624h1v1h-1zM95 624h1v1h-1zM109 624h2v1h-2zM121 624h2v1h-2zM137 624h4v1h-4zM142 624h1v1h-1zM144 624h3v1h-3zM148 624h20v1h-20zM169 624h5v1h-5zM175 624h6v1h-6zM185 624h2v1h-2zM193 624h1v1h-1zM77 625h1v1h-1zM104 625h1v1h-1zM109 625h1v1h-1zM122 625h5v1h-5zM135 625h1v1h-1zM137 625h5v1h-5zM144 625h3v1h-3zM148 625h27v1h-27zM177 625h3v1h-3zM186 625h1v1h-1zM95 626h1v1h-1zM104 626h1v1h-1zM122 626h3v1h-3zM135 626h1v1h-1zM137 626h1v1h-1zM143 626h4v1h-4zM148 626h17v1h-17zM166 626h3v1h-3zM170 626h4v1h-4zM177 626h3v1h-3zM79 627h1v1h-1zM118 627h1v1h-1zM123 627h1v1h-1zM134 627h1v1h-1zM140 627h1v1h-1zM144 627h1v1h-1zM147 627h9v1h-9zM158 627h16v1h-16zM178 627h1v1h-1zM79 628h1v1h-1zM130 628h1v1h-1zM132 628h1v1h-1zM134 628h1v1h-1zM142 628h1v1h-1zM144 628h3v1h-3zM148 628h1v1h-1zM150 628h25v1h-25zM176 628h1v1h-1zM178 628h3v1h-3zM191 628h1v1h-1zM97 629h2v1h-2zM110 629h1v1h-1zM130 629h1v1h-1zM132 629h4v1h-4zM139 629h1v1h-1zM141 629h1v1h-1zM145 629h1v1h-1zM147 629h2v1h-2zM151 629h10v1h-10zM162 629h11v1h-11zM174 629h1v1h-1zM176 629h1v1h-1zM180 629h1v1h-1zM186 629h2v1h-2zM191 629h1v1h-1zM88 630h1v1h-1zM97 630h1v1h-1zM116 630h2v1h-2zM139 630h3v1h-3zM143 630h2v1h-2zM147 630h3v1h-3zM151 630h1v1h-1zM153 630h14v1h-14zM168 630h6v1h-6zM175 630h2v1h-2zM186 630h1v1h-1zM96 631h1v1h-1zM116 631h2v1h-2zM125 631h1v1h-1zM129 631h1v1h-1zM133 631h2v1h-2zM138 631h2v1h-2zM141 631h2v1h-2zM147 631h3v1h-3zM151 631h1v1h-1zM153 631h1v1h-1zM157 631h2v1h-2zM161 631h10v1h-10zM173 631h3v1h-3zM96 632h1v1h-1zM117 632h1v1h-1zM119 632h2v1h-2zM129 632h1v1h-1zM138 632h1v1h-1zM146 632h2v1h-2zM152 632h10v1h-10zM163 632h3v1h-3zM168 632h3v1h-3zM175 632h1v1h-1zM103 633h1v1h-1zM115 633h1v1h-1zM119 633h2v1h-2zM125 633h2v1h-2zM131 633h2v1h-2zM137 633h1v1h-1zM144 633h1v1h-1zM146 633h1v1h-1zM151 633h2v1h-2zM154 633h1v1h-1zM156 633h3v1h-3zM160 633h3v1h-3zM164 633h1v1h-1zM167 633h4v1h-4zM173 633h1v1h-1zM178 633h3v1h-3zM69 634h2v1h-2zM103 634h1v1h-1zM115 634h1v1h-1zM117 634h1v1h-1zM119 634h1v1h-1zM125 634h1v1h-1zM129 634h1v1h-1zM132 634h1v1h-1zM135 634h3v1h-3zM140 634h2v1h-2zM144 634h1v1h-1zM146 634h2v1h-2zM149 634h6v1h-6zM157 634h5v1h-5zM164 634h2v1h-2zM167 634h3v1h-3zM178 634h1v1h-1zM209 634h1v1h-1zM116 635h2v1h-2zM129 635h1v1h-1zM132 635h1v1h-1zM135 635h1v1h-1zM137 635h2v1h-2zM140 635h2v1h-2zM146 635h1v1h-1zM149 635h1v1h-1zM151 635h2v1h-2zM158 635h1v1h-1zM160 635h1v1h-1zM164 635h1v1h-1zM167 635h1v1h-1zM175 635h1v1h-1zM209 635h3v1h-3zM116 636h1v1h-1zM119 636h1v1h-1zM123 636h2v1h-2zM132 636h3v1h-3zM137 636h1v1h-1zM146 636h1v1h-1zM149 636h5v1h-5zM155 636h1v1h-1zM161 636h2v1h-2zM167 636h1v1h-1zM175 636h1v1h-1zM95 637h2v1h-2zM106 637h1v1h-1zM132 637h1v1h-1zM143 637h1v1h-1zM146 637h2v1h-2zM150 637h1v1h-1zM152 637h1v1h-1zM157 637h1v1h-1zM161 637h2v1h-2zM181 637h2v1h-2zM95 638h1v1h-1zM120 638h1v1h-1zM137 638h2v1h-2zM143 638h1v1h-1zM146 638h1v1h-1zM175 638h2v1h-2zM178 638h1v1h-1zM181 638h1v1h-1zM100 639h2v1h-2zM120 639h1v1h-1zM147 639h2v1h-2zM157 639h2v1h-2zM161 639h2v1h-2zM167 639h2v1h-2zM181 639h1v1h-1zM85 640h2v1h-2zM100 640h1v1h-1zM102 640h2v1h-2zM147 640h1v1h-1zM155 640h1v1h-1zM157 640h1v1h-1zM167 640h3v1h-3zM187 640h1v1h-1zM85 641h1v1h-1zM133 641h1v1h-1zM157 641h1v1h-1zM168 641h1v1h-1zM187 641h1v1h-1zM133 642h1v1h-1zM157 642h1v1h-1zM147 643h2v1h-2zM164 643h2v1h-2zM175 643h1v1h-1zM127 644h1v1h-1zM147 644h3v1h-3zM158 644h2v1h-2zM119 645h2v1h-2zM158 645h1v1h-1z" fill="#000" shape-rendering="crispEdges"/>
<path d="M239 510h1v1h-1zM231 511h2v1h-2zM226 512h1v1h-1zM232 512h2v1h-2zM223 513h1v1h-1zM226 513h1v1h-1zM232 513h1v1h-1zM234 513h1v1h-1zM213 514h2v1h-2zM217 514h2v1h-2zM228 514h3v1h-3zM232 514h1v1h-1zM234 514h1v1h-1zM242 514h3v1h-3zM247 514h2v1h-2zM253 514h2v1h-2zM217 515h4v1h-4zM227 515h2v1h-2zM230 515h1v1h-1zM243 515h5v1h-5zM253 515h1v1h-1zM215 516h2v1h-2zM218 516h1v1h-1zM222 516h2v1h-2zM226 516h3v1h-3zM230 516h2v1h-2zM240 516h1v1h-1zM242 516h4v1h-4zM216 517h2v1h-2zM220 517h2v1h-2zM223 517h1v1h-1zM226 517h5v1h-5zM237 517h2v1h-2zM241 517h3v1h-3zM245 517h2v1h-2zM253 517h2v1h-2zM216 518h2v1h-2zM220 518h5v1h-5zM227 518h7v1h-7zM237 518h3v1h-3zM241 518h3v1h-3zM245 518h1v1h-1zM251 518h3v1h-3zM211 519h1v1h-1zM216 519h1v1h-1zM221 519h1v1h-1zM223 519h5v1h-5zM229 519h11v1h-11zM243 519h1v1h-1zM250 519h2v1h-2zM254 519h1v1h-1zM208 520h1v1h-1zM211 520h3v1h-3zM216 520h1v1h-1zM218 520h8v1h-8zM227 520h1v1h-1zM229 520h4v1h-4zM234 520h1v1h-1zM236 520h1v1h-1zM238 520h2v1h-2zM245 520h4v1h-4zM250 520h3v1h-3zM254 520h1v1h-1zM208 521h1v1h-1zM216 521h1v1h-1zM220 521h1v1h-1zM229 521h2v1h-2zM234 521h3v1h-3zM238 521h2v1h-2zM241 521h4v1h-4zM247 521h2v1h-2zM251 521h1v1h-1zM218 522h3v1h-3zM227 522h1v1h-1zM229 522h6v1h-6zM237 522h3v1h-3zM242 522h1v1h-1zM244 522h1v1h-1zM246 522h2v1h-2zM217 523h3v1h-3zM227 523h2v1h-2zM230 523h4v1h-4zM235 523h17v1h-17zM216 524h2v1h-2zM219 524h1v1h-1zM221 524h3v1h-3zM228 524h2v1h-2zM231 524h3v1h-3zM235 524h6v1h-6zM242 524h5v1h-5zM248 524h2v1h-2zM216 525h2v1h-2zM219 525h5v1h-5zM228 525h1v1h-1zM233 525h4v1h-4zM238 525h3v1h-3zM242 525h5v1h-5zM215 526h1v1h-1zM218 526h3v1h-3zM222 526h1v1h-1zM224 526h2v1h-2zM227 526h2v1h-2zM233 526h1v1h-1zM236 526h5v1h-5zM242 526h4v1h-4zM248 526h1v1h-1zM215 527h13v1h-13zM229 527h3v1h-3zM234 527h10v1h-10zM247 527h2v1h-2zM209 528h2v1h-2zM214 528h4v1h-4zM219 528h3v1h-3zM223 528h1v1h-1zM225 528h1v1h-1zM229 528h3v1h-3zM233 528h3v1h-3zM237 528h3v1h-3zM241 528h1v1h-1zM243 528h1v1h-1zM246 528h4v1h-4zM209 529h2v1h-2zM213 529h2v1h-2zM217 529h12v1h-12zM230 529h2v1h-2zM234 529h2v1h-2zM237 529h1v1h-1zM240 529h2v1h-2zM243 529h7v1h-7zM255 529h2v1h-2zM209 530h1v1h-1zM212 530h3v1h-3zM217 530h6v1h-6zM226 530h5v1h-5zM232 530h1v1h-1zM234 530h11v1h-11zM246 530h5v1h-5zM255 530h1v1h-1zM213 531h1v1h-1zM215 531h2v1h-2zM218 531h2v1h-2zM221 531h1v1h-1zM226 531h1v1h-1zM229 531h4v1h-4zM234 531h4v1h-4zM239 531h2v1h-2zM242 531h1v1h-1zM245 531h6v1h-6zM253 531h1v1h-1zM256 531h2v1h-2zM213 532h1v1h-1zM217 532h2v1h-2zM226 532h1v1h-1zM229 532h6v1h-6zM236 532h2v1h-2zM242 532h8v1h-8zM256 532h1v1h-1zM213 533h1v1h-1zM216 533h4v1h-4zM223 533h2v1h-2zM226 533h11v1h-11zM238 533h2v1h-2zM242 533h3v1h-3zM248 533h1v1h-1zM250 533h3v1h-3zM215 534h4v1h-4zM222 534h3v1h-3zM226 534h5v1h-5zM234 534h4v1h-4zM239 534h7v1h-7zM247 534h1v1h-1zM250 534h3v1h-3zM214 535h5v1h-5zM221 535h12v1h-12zM236 535h2v1h-2zM239 535h3v1h-3zM243 535h5v1h-5zM250 535h2v1h-2zM210 536h2v1h-2zM214 536h3v1h-3zM218 536h9v1h-9zM229 536h4v1h-4zM235 536h2v1h-2zM239 536h3v1h-3zM243 536h3v1h-3zM248 536h3v1h-3zM253 536h3v1h-3zM215 537h8v1h-8zM224 537h2v1h-2zM227 537h4v1h-4zM232 537h3v1h-3zM237 537h7v1h-7zM245 537h8v1h-8zM213 538h1v1h-1zM215 538h10v1h-10zM227 538h2v1h-2zM230 538h2v1h-2zM234 538h5v1h-5zM240 538h1v1h-1zM242 538h2v1h-2zM245 538h3v1h-3zM249 538h1v1h-1zM213 539h15v1h-15zM229 539h2v1h-2zM232 539h3v1h-3zM236 539h7v1h-7zM244 539h7v1h-7zM214 540h2v1h-2zM217 540h8v1h-8zM226 540h16v1h-16zM244 540h3v1h-3zM248 540h2v1h-2zM216 541h1v1h-1zM218 541h5v1h-5zM225 541h1v1h-1zM227 541h21v1h-21zM214 542h7v1h-7zM222 542h2v1h-2zM225 542h15v1h-15zM241 542h3v1h-3zM245 542h4v1h-4zM261 542h1v1h-1zM212 543h3v1h-3zM216 543h15v1h-15zM233 543h2v1h-2zM236 543h10v1h-10zM247 543h1v1h-1zM249 543h2v1h-2zM253 543h1v1h-1zM261 543h1v1h-1zM214 544h13v1h-13zM229 544h6v1h-6zM236 544h3v1h-3zM240 544h8v1h-8zM250 544h1v1h-1zM253 544h3v1h-3zM258 544h2v1h-2zM215 545h7v1h-7zM223 545h7v1h-7zM232 545h2v1h-2zM235 545h7v1h-7zM243 545h4v1h-4zM248 545h2v1h-2zM254 545h1v1h-1zM256 545h3v1h-3zM273 545h2v1h-2zM215 546h15v1h-15zM232 546h2v1h-2zM235 546h14v1h-14zM256 546h1v1h-1zM203 547h1v1h-1zM216 547h13v1h-13zM230 547h20v1h-20zM254 547h1v1h-1zM203 548h1v1h-1zM209 548h1v1h-1zM215 548h11v1h-11zM227 548h1v1h-1zM229 548h13v1h-13zM245 548h5v1h-5zM251 548h1v1h-1zM215 549h9v1h-9zM225 549h5v1h-5zM231 549h1v1h-1zM233 549h19v1h-19zM215 550h12v1h-12zM228 550h20v1h-20zM249 550h3v1h-3zM254 550h1v1h-1zM214 551h32v1h-32zM248 551h3v1h-3zM206 552h1v1h-1zM214 552h13v1h-13zM228 552h19v1h-19zM250 552h1v1h-1zM252 552h2v1h-2zM281 552h1v1h-1zM206 553h1v1h-1zM215 553h7v1h-7zM223 553h3v1h-3zM227 553h24v1h-24zM252 553h1v1h-1zM281 553h1v1h-1zM190 554h1v1h-1zM215 554h3v1h-3zM219 554h3v1h-3zM223 554h15v1h-15zM239 554h4v1h-4zM244 554h9v1h-9zM284 554h1v1h-1zM213 555h18v1h-18zM232 555h8v1h-8zM241 555h1v1h-1zM243 555h3v1h-3zM247 555h3v1h-3zM252 555h1v1h-1zM254 555h1v1h-1zM269 555h2v1h-2zM284 555h1v1h-1zM209 556h1v1h-1zM214 556h10v1h-10zM225 556h13v1h-13zM239 556h11v1h-11zM252 556h1v1h-1zM254 556h1v1h-1zM257 556h1v1h-1zM209 557h1v1h-1zM213 557h12v1h-12zM226 557h18v1h-18zM245 557h4v1h-4zM213 558h4v1h-4zM218 558h21v1h-21zM240 558h10v1h-10zM252 558h2v1h-2zM209 559h1v1h-1zM213 559h36v1h-36zM209 560h1v1h-1zM213 560h38v1h-38zM294 560h1v1h-1zM211 561h1v1h-1zM215 561h33v1h-33zM249 561h2v1h-2zM253 561h1v1h-1zM211 562h1v1h-1zM215 562h22v1h-22zM238 562h12v1h-12zM252 562h1v1h-1zM214 563h35v1h-35zM214 564h35v1h-35zM251 564h3v1h-3zM192 565h1v1h-1zM211 565h37v1h-37zM249 565h2v1h-2zM206 566h1v1h-1zM211 566h17v1h-17zM229 566h2v1h-2zM232 566h15v1h-15zM248 566h2v1h-2zM256 566h1v1h-1zM206 567h1v1h-1zM211 567h38v1h-38zM256 567h1v1h-1zM212 568h1v1h-1zM214 568h33v1h-33zM248 568h1v1h-1zM272 568h2v1h-2zM195 569h2v1h-2zM206 569h2v1h-2zM211 569h38v1h-38zM270 569h1v1h-1zM206 570h1v1h-1zM208 570h2v1h-2zM211 570h1v1h-1zM213 570h36v1h-36zM252 570h1v1h-1zM208 571h1v1h-1zM212 571h37v1h-37zM252 571h2v1h-2zM292 571h2v1h-2zM212 572h1v1h-1zM214 572h34v1h-34zM253 572h1v1h-1zM213 573h37v1h-37zM265 573h1v1h-1zM212 574h36v1h-36zM249 574h2v1h-2zM260 574h2v1h-2zM265 574h1v1h-1zM197 575h1v1h-1zM211 575h42v1h-42zM259 575h1v1h-1zM261 575h1v1h-1zM268 575h2v1h-2zM197 576h1v1h-1zM212 576h36v1h-36zM251 576h1v1h-1zM258 576h1v1h-1zM268 576h1v1h-1zM282 576h2v1h-2zM193 577h1v1h-1zM208 577h1v1h-1zM212 577h40v1h-40zM258 577h1v1h-1zM284 577h2v1h-2zM193 578h1v1h-1zM208 578h42v1h-42zM257 578h2v1h-2zM267 578h1v1h-1zM274 578h1v1h-1zM284 578h1v1h-1zM209 579h39v1h-39zM249 579h1v1h-1zM267 579h1v1h-1zM274 579h1v1h-1zM210 580h38v1h-38zM252 580h1v1h-1zM255 580h1v1h-1zM261 580h2v1h-2zM210 581h39v1h-39zM250 581h3v1h-3zM255 581h1v1h-1zM259 581h3v1h-3zM208 582h1v1h-1zM212 582h40v1h-40zM253 582h3v1h-3zM185 583h2v1h-2zM206 583h2v1h-2zM210 583h44v1h-44zM273 583h2v1h-2zM185 584h1v1h-1zM206 584h1v1h-1zM210 584h39v1h-39zM251 584h2v1h-2zM257 584h1v1h-1zM260 584h2v1h-2zM266 584h2v1h-2zM273 584h1v1h-1zM200 585h1v1h-1zM212 585h37v1h-37zM250 585h3v1h-3zM254 585h2v1h-2zM258 585h3v1h-3zM180 586h1v1h-1zM208 586h2v1h-2zM211 586h40v1h-40zM252 586h2v1h-2zM258 586h1v1h-1zM260 586h1v1h-1zM263 586h1v1h-1zM265 586h3v1h-3zM180 587h1v1h-1zM203 587h2v1h-2zM210 587h42v1h-42zM253 587h4v1h-4zM258 587h3v1h-3zM263 587h3v1h-3zM267 587h1v1h-1zM204 588h1v1h-1zM209 588h39v1h-39zM249 588h1v1h-1zM251 588h1v1h-1zM253 588h4v1h-4zM258 588h3v1h-3zM263 588h2v1h-2zM192 589h1v1h-1zM207 589h45v1h-45zM253 589h2v1h-2zM257 589h2v1h-2zM260 589h2v1h-2zM264 589h1v1h-1zM270 589h1v1h-1zM274 589h2v1h-2zM192 590h1v1h-1zM210 590h39v1h-39zM250 590h3v1h-3zM255 590h4v1h-4zM261 590h1v1h-1zM264 590h1v1h-1zM270 590h1v1h-1zM274 590h1v1h-1zM210 591h47v1h-47zM258 591h1v1h-1zM263 591h1v1h-1zM265 591h2v1h-2zM276 591h1v1h-1zM209 592h40v1h-40zM250 592h6v1h-6zM262 592h1v1h-1zM264 592h2v1h-2zM269 592h2v1h-2zM276 592h1v1h-1zM202 593h1v1h-1zM208 593h42v1h-42zM251 593h7v1h-7zM259 593h3v1h-3zM267 593h3v1h-3zM206 594h43v1h-43zM251 594h7v1h-7zM259 594h2v1h-2zM265 594h2v1h-2zM207 595h44v1h-44zM252 595h3v1h-3zM256 595h2v1h-2zM263 595h3v1h-3zM279 595h1v1h-1zM188 596h3v1h-3zM202 596h2v1h-2zM208 596h53v1h-53zM262 596h2v1h-2zM268 596h2v1h-2zM279 596h1v1h-1zM188 597h1v1h-1zM208 597h44v1h-44zM253 597h2v1h-2zM257 597h2v1h-2zM261 597h2v1h-2zM264 597h1v1h-1zM266 597h1v1h-1zM272 597h1v1h-1zM203 598h2v1h-2zM207 598h44v1h-44zM252 598h13v1h-13zM266 598h1v1h-1zM272 598h1v1h-1zM281 598h2v1h-2zM206 599h56v1h-56zM263 599h2v1h-2zM272 599h1v1h-1zM275 599h2v1h-2zM281 599h1v1h-1zM203 600h1v1h-1zM207 600h54v1h-54zM264 600h1v1h-1zM267 600h2v1h-2zM274 600h2v1h-2zM202 601h1v1h-1zM204 601h59v1h-59zM264 601h2v1h-2zM268 601h2v1h-2zM202 602h53v1h-53zM256 602h7v1h-7zM268 602h1v1h-1zM199 603h2v1h-2zM203 603h49v1h-49zM256 603h3v1h-3zM260 603h5v1h-5zM266 603h3v1h-3zM270 603h2v1h-2zM200 604h62v1h-62zM263 604h4v1h-4zM268 604h1v1h-1zM270 604h1v1h-1zM188 605h1v1h-1zM200 605h1v1h-1zM202 605h63v1h-63zM192 606h1v1h-1zM203 606h53v1h-53zM259 606h7v1h-7zM274 606h1v1h-1zM293 606h2v1h-2zM192 607h1v1h-1zM198 607h1v1h-1zM203 607h53v1h-53zM257 607h1v1h-1zM261 607h1v1h-1zM263 607h1v1h-1zM267 607h1v1h-1zM293 607h1v1h-1zM198 608h1v1h-1zM202 608h51v1h-51zM254 608h4v1h-4zM260 608h1v1h-1zM262 608h1v1h-1zM266 608h2v1h-2zM203 609h50v1h-50zM254 609h1v1h-1zM256 609h5v1h-5zM265 609h1v1h-1zM199 610h54v1h-54zM256 610h2v1h-2zM260 610h1v1h-1zM262 610h2v1h-2zM199 611h1v1h-1zM201 611h55v1h-55zM257 611h6v1h-6zM269 611h2v1h-2zM199 612h1v1h-1zM202 612h61v1h-61zM195 613h1v1h-1zM199 613h58v1h-58zM258 613h5v1h-5zM265 613h1v1h-1zM195 614h4v1h-4zM200 614h55v1h-55zM256 614h4v1h-4zM262 614h1v1h-1zM265 614h1v1h-1zM195 615h2v1h-2zM198 615h64v1h-64zM268 615h2v1h-2zM196 616h2v1h-2zM199 616h54v1h-54zM254 616h2v1h-2zM257 616h4v1h-4zM263 616h2v1h-2zM269 616h1v1h-1zM196 617h69v1h-69zM267 617h2v1h-2zM196 618h58v1h-58zM255 618h6v1h-6zM262 618h1v1h-1zM266 618h2v1h-2zM182 619h1v1h-1zM191 619h1v1h-1zM196 619h55v1h-55zM252 619h1v1h-1zM256 619h3v1h-3zM266 619h1v1h-1zM272 619h2v1h-2zM182 620h1v1h-1zM190 620h2v1h-2zM195 620h1v1h-1zM197 620h57v1h-57zM255 620h2v1h-2zM260 620h1v1h-1zM265 620h2v1h-2zM272 620h1v1h-1zM193 621h59v1h-59zM253 621h6v1h-6zM260 621h2v1h-2zM263 621h5v1h-5zM189 622h1v1h-1zM193 622h1v1h-1zM195 622h57v1h-57zM254 622h3v1h-3zM263 622h2v1h-2zM266 622h1v1h-1zM189 623h1v1h-1zM193 623h2v1h-2zM196 623h54v1h-54zM251 623h1v1h-1zM253 623h1v1h-1zM255 623h2v1h-2zM260 623h2v1h-2zM191 624h1v1h-1zM193 624h57v1h-57zM252 624h3v1h-3zM256 624h1v1h-1zM188 625h1v1h-1zM193 625h57v1h-57zM251 625h2v1h-2zM254 625h2v1h-2zM257 625h2v1h-2zM261 625h1v1h-1zM264 625h1v1h-1zM188 626h1v1h-1zM193 626h56v1h-56zM251 626h3v1h-3zM257 626h1v1h-1zM264 626h1v1h-1zM193 627h55v1h-55zM249 627h2v1h-2zM257 627h1v1h-1zM260 627h1v1h-1zM189 628h3v1h-3zM194 628h56v1h-56zM189 629h56v1h-56zM246 629h3v1h-3zM251 629h3v1h-3zM258 629h2v1h-2zM189 630h60v1h-60zM251 630h1v1h-1zM253 630h1v1h-1zM256 630h2v1h-2zM262 630h2v1h-2zM180 631h2v1h-2zM188 631h2v1h-2zM191 631h61v1h-61zM254 631h1v1h-1zM260 631h1v1h-1zM262 631h3v1h-3zM268 631h2v1h-2zM180 632h1v1h-1zM188 632h1v1h-1zM190 632h57v1h-57zM249 632h1v1h-1zM251 632h2v1h-2zM254 632h1v1h-1zM261 632h2v1h-2zM268 632h1v1h-1zM186 633h2v1h-2zM189 633h56v1h-56zM251 633h1v1h-1zM282 633h2v1h-2zM188 634h55v1h-55zM245 634h3v1h-3zM251 634h2v1h-2zM254 634h1v1h-1zM282 634h1v1h-1zM188 635h1v1h-1zM190 635h51v1h-51zM242 635h6v1h-6zM249 635h2v1h-2zM254 635h1v1h-1zM256 635h3v1h-3zM262 635h1v1h-1zM187 636h2v1h-2zM191 636h52v1h-52zM246 636h9v1h-9zM256 636h3v1h-3zM262 636h1v1h-1zM188 637h54v1h-54zM244 637h3v1h-3zM248 637h3v1h-3zM253 637h1v1h-1zM188 638h1v1h-1zM191 638h41v1h-41zM233 638h2v1h-2zM236 638h3v1h-3zM240 638h1v1h-1zM243 638h3v1h-3zM256 638h2v1h-2zM188 639h7v1h-7zM196 639h21v1h-21zM218 639h6v1h-6zM225 639h6v1h-6zM232 639h3v1h-3zM236 639h1v1h-1zM241 639h2v1h-2zM244 639h1v1h-1zM246 639h1v1h-1zM251 639h2v1h-2zM256 639h2v1h-2zM283 639h2v1h-2zM189 640h2v1h-2zM192 640h17v1h-17zM211 640h1v1h-1zM213 640h7v1h-7zM221 640h1v1h-1zM223 640h3v1h-3zM228 640h2v1h-2zM231 640h2v1h-2zM242 640h2v1h-2zM283 640h1v1h-1zM187 641h2v1h-2zM192 641h4v1h-4zM197 641h11v1h-11zM209 641h4v1h-4zM214 641h2v1h-2zM217 641h5v1h-5zM228 641h1v1h-1zM233 641h2v1h-2zM239 641h2v1h-2zM242 641h1v1h-1zM244 641h3v1h-3zM187 642h1v1h-1zM191 642h2v1h-2zM194 642h1v1h-1zM198 642h1v1h-1zM202 642h1v1h-1zM205 642h1v1h-1zM207 642h4v1h-4zM214 642h2v1h-2zM217 642h3v1h-3zM221 642h2v1h-2zM224 642h2v1h-2zM228 642h1v1h-1zM233 642h1v1h-1zM240 642h1v1h-1zM245 642h3v1h-3zM189 643h1v1h-1zM191 643h1v1h-1zM197 643h1v1h-1zM207 643h1v1h-1zM209 643h1v1h-1zM211 643h1v1h-1zM213 643h1v1h-1zM217 643h3v1h-3zM221 643h1v1h-1zM224 643h5v1h-5zM240 643h1v1h-1zM246 643h1v1h-1zM249 643h1v1h-1zM189 644h1v1h-1zM191 644h1v1h-1zM196 644h1v1h-1zM200 644h1v1h-1zM207 644h3v1h-3zM211 644h1v1h-1zM223 644h3v1h-3zM227 644h1v1h-1zM233 644h1v1h-1zM239 644h2v1h-2zM249 644h1v1h-1zM258 644h2v1h-2zM196 645h1v1h-1zM208 645h2v1h-2zM223 645h2v1h-2zM231 645h1v1h-1zM242 645h2v1h-2z" fill="#e46c0a" shape-rendering="crispEdges"/>
<path d="M151 756h1v1h-1zM159 801h2v1h-2zM167 806h2v1h-2zM167 807h1v1h-1zM170 815h2v1h-2zM197 830h2v1h-2zM175 832h2v1h-2zM175 833h1v1h-1zM197 838h2v1h-2zM197 839h1v1h-1zM127 841h1v1h-1zM152 864h1v1h-1zM152 865h1v1h-1zM148 870h1v1h-1zM194 870h1v1h-1zM148 871h1v1h-1zM194 871h1v1h-1zM117 888h2v1h-2zM117 889h1v1h-1zM190 896h2v1h-2zM190 897h1v1h-1zM97 903h1v1h-1zM103 904h2v1h-2zM97 915h1v1h-1zM137 915h1v1h-1zM137 916h1v1h-1zM141 916h2v1h-2zM164 916h2v1h-2zM107 917h2v1h-2zM141 917h1v1h-1zM86 918h2v1h-2zM107 918h1v1h-1zM114 919h1v1h-1zM72 920h2v1h-2zM110 920h2v1h-2zM126 920h1v1h-1zM136 920h1v1h-1zM72 921h1v1h-1zM88 921h2v1h-2zM102 922h2v1h-2zM98 923h1v1h-1zM102 923h1v1h-1zM98 924h1v1h-1zM151 924h2v1h-2zM151 925h1v1h-1zM156 925h1v1h-1zM101 926h1v1h-1zM119 926h2v1h-2zM132 926h2v1h-2zM150 926h2v1h-2zM156 926h1v1h-1zM108 927h1v1h-1zM119 927h3v1h-3zM132 927h1v1h-1zM150 927h1v1h-1zM69 928h1v1h-1zM78 928h2v1h-2zM108 928h1v1h-1zM145 928h1v1h-1zM69 929h1v1h-1zM78 929h1v1h-1zM139 929h1v1h-1zM145 929h1v1h-1zM94 930h2v1h-2zM119 930h2v1h-2zM139 930h1v1h-1zM144 930h1v1h-1zM89 931h2v1h-2zM94 931h1v1h-1zM115 931h1v1h-1zM119 931h1v1h-1zM144 931h1v1h-1zM89 932h1v1h-1zM115 932h1v1h-1zM129 932h1v1h-1zM131 932h1v1h-1zM134 932h2v1h-2zM144 932h1v1h-1zM151 932h1v1h-1zM129 933h1v1h-1zM134 933h1v1h-1zM143 933h3v1h-3zM151 933h1v1h-1zM101 934h1v1h-1zM108 934h1v1h-1zM110 934h1v1h-1zM126 934h1v1h-1zM143 934h2v1h-2zM157 934h1v1h-1zM101 935h1v1h-1zM126 935h3v1h-3zM150 935h2v1h-2zM109 936h1v1h-1zM120 936h1v1h-1zM135 936h6v1h-6zM100 937h1v1h-1zM106 937h2v1h-2zM117 937h1v1h-1zM129 937h1v1h-1zM132 937h2v1h-2zM136 937h4v1h-4zM148 937h1v1h-1zM151 937h1v1h-1zM168 937h2v1h-2zM78 938h1v1h-1zM100 938h1v1h-1zM121 938h2v1h-2zM127 938h6v1h-6zM138 938h2v1h-2zM150 938h2v1h-2zM163 938h1v1h-1zM168 938h1v1h-1zM95 939h2v1h-2zM99 939h2v1h-2zM108 939h1v1h-1zM112 939h2v1h-2zM118 939h1v1h-1zM122 939h2v1h-2zM126 939h3v1h-3zM131 939h2v1h-2zM141 939h3v1h-3zM150 939h1v1h-1zM156 939h1v1h-1zM162 939h2v1h-2zM170 939h1v1h-1zM90 940h1v1h-1zM95 940h1v1h-1zM99 940h1v1h-1zM101 940h2v1h-2zM107 940h2v1h-2zM112 940h3v1h-3zM116 940h1v1h-1zM118 940h1v1h-1zM122 940h1v1h-1zM127 940h2v1h-2zM132 940h1v1h-1zM134 940h2v1h-2zM137 940h1v1h-1zM140 940h5v1h-5zM152 940h1v1h-1zM154 940h3v1h-3zM159 940h2v1h-2zM162 940h1v1h-1zM170 940h1v1h-1zM100 941h2v1h-2zM111 941h1v1h-1zM115 941h1v1h-1zM118 941h1v1h-1zM127 941h8v1h-8zM143 941h1v1h-1zM152 941h4v1h-4zM157 941h2v1h-2zM168 941h1v1h-1zM170 941h2v1h-2zM80 942h2v1h-2zM93 942h2v1h-2zM111 942h1v1h-1zM117 942h1v1h-1zM125 942h1v1h-1zM127 942h1v1h-1zM129 942h3v1h-3zM134 942h1v1h-1zM138 942h1v1h-1zM143 942h3v1h-3zM148 942h1v1h-1zM150 942h3v1h-3zM155 942h3v1h-3zM170 942h1v1h-1zM87 943h1v1h-1zM93 943h1v1h-1zM96 943h1v1h-1zM99 943h2v1h-2zM103 943h1v1h-1zM111 943h1v1h-1zM113 943h5v1h-5zM121 943h2v1h-2zM124 943h2v1h-2zM129 943h3v1h-3zM134 943h3v1h-3zM138 943h1v1h-1zM143 943h2v1h-2zM148 943h3v1h-3zM152 943h2v1h-2zM159 943h7v1h-7zM170 943h2v1h-2zM173 943h1v1h-1zM71 944h1v1h-1zM86 944h2v1h-2zM92 944h2v1h-2zM96 944h1v1h-1zM99 944h1v1h-1zM103 944h1v1h-1zM105 944h3v1h-3zM111 944h4v1h-4zM116 944h1v1h-1zM121 944h1v1h-1zM124 944h1v1h-1zM129 944h2v1h-2zM132 944h6v1h-6zM141 944h4v1h-4zM147 944h1v1h-1zM149 944h1v1h-1zM151 944h1v1h-1zM165 944h1v1h-1zM170 944h1v1h-1zM80 945h2v1h-2zM85 945h2v1h-2zM88 945h2v1h-2zM92 945h1v1h-1zM103 945h1v1h-1zM105 945h5v1h-5zM112 945h1v1h-1zM121 945h1v1h-1zM124 945h4v1h-4zM130 945h4v1h-4zM138 945h3v1h-3zM142 945h2v1h-2zM146 945h1v1h-1zM151 945h1v1h-1zM153 945h1v1h-1zM156 945h2v1h-2zM159 945h2v1h-2zM166 945h2v1h-2zM169 945h3v1h-3zM80 946h2v1h-2zM85 946h1v1h-1zM92 946h1v1h-1zM103 946h1v1h-1zM110 946h3v1h-3zM114 946h2v1h-2zM117 946h1v1h-1zM119 946h2v1h-2zM123 946h4v1h-4zM128 946h2v1h-2zM131 946h1v1h-1zM133 946h1v1h-1zM135 946h1v1h-1zM139 946h4v1h-4zM144 946h3v1h-3zM150 946h2v1h-2zM153 946h1v1h-1zM155 946h2v1h-2zM166 946h3v1h-3zM171 946h2v1h-2zM84 947h1v1h-1zM91 947h1v1h-1zM98 947h2v1h-2zM102 947h2v1h-2zM110 947h1v1h-1zM112 947h1v1h-1zM114 947h1v1h-1zM117 947h1v1h-1zM119 947h2v1h-2zM122 947h4v1h-4zM128 947h4v1h-4zM133 947h9v1h-9zM148 947h2v1h-2zM151 947h2v1h-2zM155 947h1v1h-1zM157 947h2v1h-2zM161 947h2v1h-2zM167 947h1v1h-1zM171 947h1v1h-1zM79 948h2v1h-2zM82 948h1v1h-1zM99 948h1v1h-1zM102 948h1v1h-1zM107 948h1v1h-1zM109 948h1v1h-1zM111 948h4v1h-4zM117 948h1v1h-1zM122 948h1v1h-1zM126 948h1v1h-1zM129 948h3v1h-3zM134 948h4v1h-4zM139 948h1v1h-1zM141 948h1v1h-1zM146 948h6v1h-6zM155 948h1v1h-1zM157 948h1v1h-1zM169 948h2v1h-2zM172 948h1v1h-1zM174 948h1v1h-1zM70 949h2v1h-2zM91 949h1v1h-1zM98 949h1v1h-1zM101 949h4v1h-4zM106 949h2v1h-2zM111 949h3v1h-3zM117 949h4v1h-4zM125 949h13v1h-13zM139 949h3v1h-3zM144 949h3v1h-3zM151 949h7v1h-7zM165 949h2v1h-2zM168 949h3v1h-3zM174 949h1v1h-1zM70 950h1v1h-1zM72 950h2v1h-2zM91 950h1v1h-1zM95 950h2v1h-2zM99 950h3v1h-3zM103 950h2v1h-2zM106 950h1v1h-1zM112 950h5v1h-5zM118 950h1v1h-1zM120 950h2v1h-2zM124 950h8v1h-8zM133 950h1v1h-1zM135 950h3v1h-3zM139 950h5v1h-5zM145 950h1v1h-1zM151 950h3v1h-3zM155 950h2v1h-2zM163 950h4v1h-4zM168 950h1v1h-1zM72 951h1v1h-1zM91 951h2v1h-2zM99 951h2v1h-2zM103 951h1v1h-1zM105 951h1v1h-1zM109 951h1v1h-1zM112 951h3v1h-3zM118 951h1v1h-1zM120 951h2v1h-2zM124 951h9v1h-9zM134 951h1v1h-1zM136 951h10v1h-10zM147 951h2v1h-2zM152 951h2v1h-2zM155 951h4v1h-4zM161 951h3v1h-3zM165 951h3v1h-3zM172 951h2v1h-2zM91 952h2v1h-2zM105 952h1v1h-1zM108 952h4v1h-4zM114 952h4v1h-4zM121 952h4v1h-4zM126 952h3v1h-3zM131 952h7v1h-7zM139 952h9v1h-9zM152 952h2v1h-2zM155 952h2v1h-2zM161 952h1v1h-1zM163 952h2v1h-2zM166 952h1v1h-1zM168 952h1v1h-1zM170 952h1v1h-1zM172 952h1v1h-1zM65 953h1v1h-1zM72 953h2v1h-2zM79 953h1v1h-1zM84 953h1v1h-1zM91 953h2v1h-2zM95 953h2v1h-2zM106 953h2v1h-2zM111 953h1v1h-1zM113 953h4v1h-4zM120 953h13v1h-13zM134 953h3v1h-3zM138 953h2v1h-2zM145 953h1v1h-1zM150 953h8v1h-8zM160 953h2v1h-2zM165 953h2v1h-2zM168 953h1v1h-1zM170 953h1v1h-1zM71 954h2v1h-2zM79 954h1v1h-1zM83 954h2v1h-2zM89 954h3v1h-3zM95 954h1v1h-1zM100 954h1v1h-1zM110 954h3v1h-3zM114 954h3v1h-3zM122 954h1v1h-1zM124 954h12v1h-12zM137 954h9v1h-9zM147 954h5v1h-5zM153 954h1v1h-1zM155 954h2v1h-2zM160 954h1v1h-1zM163 954h6v1h-6zM171 954h3v1h-3zM71 955h1v1h-1zM90 955h1v1h-1zM100 955h1v1h-1zM106 955h3v1h-3zM110 955h1v1h-1zM115 955h6v1h-6zM122 955h1v1h-1zM124 955h2v1h-2zM127 955h1v1h-1zM130 955h6v1h-6zM137 955h14v1h-14zM152 955h2v1h-2zM156 955h8v1h-8zM169 955h6v1h-6zM89 956h2v1h-2zM92 956h2v1h-2zM100 956h1v1h-1zM102 956h1v1h-1zM106 956h1v1h-1zM108 956h1v1h-1zM110 956h2v1h-2zM117 956h8v1h-8zM126 956h13v1h-13zM140 956h11v1h-11zM152 956h5v1h-5zM158 956h1v1h-1zM162 956h6v1h-6zM169 956h1v1h-1zM173 956h1v1h-1zM86 957h1v1h-1zM89 957h2v1h-2zM92 957h1v1h-1zM102 957h1v1h-1zM106 957h5v1h-5zM112 957h3v1h-3zM116 957h2v1h-2zM119 957h1v1h-1zM121 957h10v1h-10zM132 957h9v1h-9zM142 957h13v1h-13zM156 957h13v1h-13zM172 957h2v1h-2zM86 958h1v1h-1zM96 958h5v1h-5zM105 958h2v1h-2zM111 958h4v1h-4zM116 958h2v1h-2zM119 958h3v1h-3zM123 958h1v1h-1zM125 958h41v1h-41zM167 958h7v1h-7zM67 959h1v1h-1zM96 959h2v1h-2zM100 959h1v1h-1zM104 959h6v1h-6zM111 959h1v1h-1zM113 959h5v1h-5zM119 959h2v1h-2zM123 959h6v1h-6zM130 959h43v1h-43zM78 960h2v1h-2zM90 960h2v1h-2zM94 960h2v1h-2zM97 960h5v1h-5zM103 960h2v1h-2zM106 960h4v1h-4zM113 960h3v1h-3zM117 960h12v1h-12zM130 960h45v1h-45zM67 961h1v1h-1zM81 961h1v1h-1zM87 961h1v1h-1zM94 961h5v1h-5zM100 961h1v1h-1zM102 961h1v1h-1zM106 961h3v1h-3zM111 961h5v1h-5zM117 961h1v1h-1zM119 961h1v1h-1zM121 961h48v1h-48zM170 961h2v1h-2zM173 961h2v1h-2zM75 962h2v1h-2zM80 962h1v1h-1zM91 962h1v1h-1zM93 962h2v1h-2zM96 962h6v1h-6zM103 962h1v1h-1zM105 962h64v1h-64zM170 962h1v1h-1zM173 962h1v1h-1zM69 963h1v1h-1zM74 963h2v1h-2zM81 963h1v1h-1zM86 963h1v1h-1zM93 963h2v1h-2zM96 963h6v1h-6zM103 963h1v1h-1zM106 963h2v1h-2zM109 963h60v1h-60zM170 963h3v1h-3zM68 964h3v1h-3zM74 964h3v1h-3zM80 964h3v1h-3zM86 964h2v1h-2zM91 964h3v1h-3zM95 964h2v1h-2zM98 964h74v1h-74zM64 965h2v1h-2zM76 965h5v1h-5zM83 965h5v1h-5zM90 965h4v1h-4zM95 965h6v1h-6zM102 965h68v1h-68zM172 965h2v1h-2zM64 966h1v1h-1zM68 966h4v1h-4zM76 966h12v1h-12zM89 966h9v1h-9zM99 966h75v1h-75zM67 967h2v1h-2zM75 967h3v1h-3zM81 967h18v1h-18zM100 967h74v1h-74zM67 968h1v1h-1zM72 968h2v1h-2zM75 968h99v1h-99zM64 969h1v1h-1zM70 969h3v1h-3zM77 969h7v1h-7zM86 969h86v1h-86zM173 969h1v1h-1zM70 970h2v1h-2zM76 970h3v1h-3zM80 970h92v1h-92zM173 970h1v1h-1zM64 971h7v1h-7zM74 971h3v1h-3zM78 971h1v1h-1zM80 971h7v1h-7zM89 971h84v1h-84zM65 972h8v1h-8zM75 972h2v1h-2zM78 972h1v1h-1zM81 972h4v1h-4zM86 972h1v1h-1zM88 972h1v1h-1zM90 972h85v1h-85zM65 973h1v1h-1zM68 973h6v1h-6zM75 973h1v1h-1zM77 973h8v1h-8zM87 973h87v1h-87zM65 974h1v1h-1zM67 974h4v1h-4zM72 974h2v1h-2zM75 974h18v1h-18zM94 974h76v1h-76zM64 975h1v1h-1zM67 975h3v1h-3zM72 975h2v1h-2zM75 975h2v1h-2zM79 975h1v1h-1zM82 975h3v1h-3zM87 975h7v1h-7zM95 975h78v1h-78zM71 976h4v1h-4zM76 976h1v1h-1zM83 976h1v1h-1zM85 976h84v1h-84zM171 976h1v1h-1zM65 977h2v1h-2zM69 977h2v1h-2zM73 977h2v1h-2zM76 977h2v1h-2zM81 977h1v1h-1zM83 977h86v1h-86zM170 977h4v1h-4zM65 978h1v1h-1zM69 978h3v1h-3zM73 978h1v1h-1zM75 978h4v1h-4zM81 978h9v1h-9zM91 978h80v1h-80zM172 978h1v1h-1zM64 979h3v1h-3zM72 979h2v1h-2zM75 979h1v1h-1zM77 979h1v1h-1zM79 979h4v1h-4zM84 979h1v1h-1zM86 979h5v1h-5zM92 979h79v1h-79zM172 979h1v1h-1zM64 980h1v1h-1zM66 980h2v1h-2zM70 980h1v1h-1zM75 980h1v1h-1zM77 980h1v1h-1zM79 980h3v1h-3zM83 980h2v1h-2zM87 980h2v1h-2zM90 980h79v1h-79zM66 981h1v1h-1zM70 981h2v1h-2zM73 981h1v1h-1zM77 981h1v1h-1zM80 981h6v1h-6zM87 981h2v1h-2zM90 981h1v1h-1zM93 981h33v1h-33zM127 981h21v1h-21zM149 981h11v1h-11zM161 981h4v1h-4zM166 981h3v1h-3zM170 981h3v1h-3zM65 982h2v1h-2zM69 982h2v1h-2zM76 982h2v1h-2zM80 982h2v1h-2zM83 982h5v1h-5zM90 982h5v1h-5zM96 982h23v1h-23zM121 982h18v1h-18zM140 982h25v1h-25zM166 982h5v1h-5zM65 983h1v1h-1zM68 983h2v1h-2zM76 983h2v1h-2zM80 983h1v1h-1zM83 983h5v1h-5zM89 983h5v1h-5zM95 983h10v1h-10zM106 983h5v1h-5zM113 983h28v1h-28zM142 983h13v1h-13zM156 983h3v1h-3zM162 983h1v1h-1zM164 983h9v1h-9zM68 984h1v1h-1zM72 984h2v1h-2zM77 984h1v1h-1zM80 984h2v1h-2zM87 984h1v1h-1zM90 984h4v1h-4zM95 984h2v1h-2zM98 984h4v1h-4zM103 984h2v1h-2zM106 984h3v1h-3zM110 984h2v1h-2zM114 984h3v1h-3zM118 984h6v1h-6zM125 984h8v1h-8zM134 984h5v1h-5zM140 984h5v1h-5zM146 984h1v1h-1zM149 984h9v1h-9zM159 984h10v1h-10zM64 985h1v1h-1zM79 985h1v1h-1zM82 985h1v1h-1zM88 985h1v1h-1zM91 985h7v1h-7zM102 985h3v1h-3zM106 985h3v1h-3zM110 985h1v1h-1zM115 985h2v1h-2zM118 985h2v1h-2zM121 985h2v1h-2zM124 985h3v1h-3zM130 985h1v1h-1zM133 985h1v1h-1zM135 985h2v1h-2zM138 985h2v1h-2zM141 985h1v1h-1zM143 985h8v1h-8zM152 985h2v1h-2zM155 985h2v1h-2zM159 985h1v1h-1zM161 985h2v1h-2zM164 985h1v1h-1zM166 985h4v1h-4zM175 985h1v1h-1zM78 986h2v1h-2zM89 986h1v1h-1zM92 986h2v1h-2zM96 986h3v1h-3zM101 986h7v1h-7zM110 986h1v1h-1zM113 986h4v1h-4zM118 986h2v1h-2zM124 986h2v1h-2zM127 986h2v1h-2zM133 986h1v1h-1zM135 986h1v1h-1zM142 986h2v1h-2zM145 986h5v1h-5zM153 986h1v1h-1zM155 986h1v1h-1zM161 986h1v1h-1zM166 986h1v1h-1zM168 986h1v1h-1zM170 986h2v1h-2zM78 987h1v1h-1zM89 987h1v1h-1zM94 987h3v1h-3zM101 987h6v1h-6zM112 987h1v1h-1zM116 987h5v1h-5zM123 987h2v1h-2zM126 987h4v1h-4zM132 987h4v1h-4zM137 987h2v1h-2zM140 987h7v1h-7zM149 987h4v1h-4zM159 987h2v1h-2zM166 987h2v1h-2zM170 987h1v1h-1zM173 987h2v1h-2zM82 988h2v1h-2zM89 988h1v1h-1zM92 988h3v1h-3zM97 988h2v1h-2zM100 988h1v1h-1zM107 988h2v1h-2zM110 988h3v1h-3zM117 988h4v1h-4zM122 988h3v1h-3zM128 988h1v1h-1zM134 988h2v1h-2zM139 988h3v1h-3zM143 988h2v1h-2zM149 988h1v1h-1zM152 988h1v1h-1zM155 988h2v1h-2zM158 988h3v1h-3zM172 988h2v1h-2z" fill="#000" shape-rendering="crispEdges"/>
<path d="M247 776h1v1h-1zM238 787h1v1h-1zM250 791h1v1h-1zM250 792h1v1h-1zM267 799h1v1h-1zM239 806h1v1h-1zM239 807h1v1h-1zM267 817h1v1h-1zM246 830h2v1h-2zM262 833h2v1h-2zM240 837h2v1h-2zM245 838h1v1h-1zM255 838h1v1h-1zM245 839h1v1h-1zM255 839h1v1h-1zM248 841h2v1h-2zM250 846h2v1h-2zM246 851h2v1h-2zM242 854h1v1h-1zM242 855h1v1h-1zM245 859h2v1h-2zM245 860h1v1h-1zM265 864h1v1h-1zM251 865h2v1h-2zM265 865h1v1h-1zM246 866h2v1h-2zM246 867h1v1h-1zM269 868h2v1h-2zM289 868h2v1h-2zM251 869h2v1h-2zM289 869h1v1h-1zM232 870h1v1h-1zM236 870h2v1h-2zM232 871h1v1h-1zM254 874h1v1h-1zM240 876h2v1h-2zM264 877h1v1h-1zM258 878h2v1h-2zM264 878h1v1h-1zM275 880h1v1h-1zM226 883h2v1h-2zM266 884h1v1h-1zM266 885h1v1h-1zM251 889h1v1h-1zM254 889h2v1h-2zM254 890h1v1h-1zM258 897h2v1h-2zM254 898h2v1h-2zM258 898h1v1h-1zM254 899h1v1h-1zM267 899h1v1h-1zM279 899h2v1h-2zM265 900h2v1h-2zM249 901h2v1h-2zM264 901h2v1h-2zM249 902h1v1h-1zM264 902h1v1h-1zM257 903h1v1h-1zM264 904h2v1h-2zM278 904h2v1h-2zM284 904h2v1h-2zM264 905h1v1h-1zM278 905h1v1h-1zM252 906h1v1h-1zM257 906h1v1h-1zM267 906h2v1h-2zM271 906h1v1h-1zM252 907h1v1h-1zM257 907h3v1h-3zM263 907h2v1h-2zM268 907h2v1h-2zM271 907h1v1h-1zM257 908h2v1h-2zM264 908h1v1h-1zM268 908h2v1h-2zM271 908h1v1h-1zM280 908h1v1h-1zM220 909h3v1h-3zM251 909h1v1h-1zM256 909h2v1h-2zM262 909h5v1h-5zM269 909h1v1h-1zM271 909h2v1h-2zM220 910h1v1h-1zM249 910h3v1h-3zM257 910h6v1h-6zM265 910h1v1h-1zM269 910h7v1h-7zM249 911h1v1h-1zM251 911h1v1h-1zM257 911h3v1h-3zM261 911h1v1h-1zM264 911h2v1h-2zM272 911h4v1h-4zM279 911h1v1h-1zM249 912h2v1h-2zM256 912h1v1h-1zM261 912h1v1h-1zM264 912h8v1h-8zM274 912h2v1h-2zM279 912h1v1h-1zM252 913h3v1h-3zM258 913h1v1h-1zM260 913h2v1h-2zM265 913h1v1h-1zM268 913h2v1h-2zM271 913h2v1h-2zM274 913h2v1h-2zM250 914h4v1h-4zM259 914h2v1h-2zM265 914h1v1h-1zM267 914h3v1h-3zM272 914h2v1h-2zM275 914h3v1h-3zM288 914h1v1h-1zM250 915h1v1h-1zM256 915h1v1h-1zM259 915h3v1h-3zM265 915h6v1h-6zM272 915h2v1h-2zM276 915h1v1h-1zM239 916h1v1h-1zM247 916h2v1h-2zM250 916h2v1h-2zM259 916h5v1h-5zM266 916h6v1h-6zM274 916h5v1h-5zM219 917h2v1h-2zM227 917h1v1h-1zM239 917h1v1h-1zM245 917h2v1h-2zM250 917h2v1h-2zM254 917h3v1h-3zM259 917h3v1h-3zM263 917h6v1h-6zM270 917h3v1h-3zM274 917h2v1h-2zM277 917h2v1h-2zM227 918h1v1h-1zM234 918h2v1h-2zM248 918h4v1h-4zM254 918h1v1h-1zM256 918h2v1h-2zM259 918h9v1h-9zM269 918h8v1h-8zM278 918h1v1h-1zM185 919h1v1h-1zM238 919h1v1h-1zM246 919h6v1h-6zM254 919h1v1h-1zM256 919h2v1h-2zM260 919h17v1h-17zM278 919h1v1h-1zM281 919h1v1h-1zM286 919h1v1h-1zM289 919h2v1h-2zM297 919h2v1h-2zM246 920h1v1h-1zM250 920h1v1h-1zM252 920h7v1h-7zM260 920h10v1h-10zM273 920h3v1h-3zM278 920h2v1h-2zM281 920h1v1h-1zM289 920h1v1h-1zM242 921h1v1h-1zM252 921h7v1h-7zM260 921h11v1h-11zM273 921h5v1h-5zM281 921h1v1h-1zM283 921h2v1h-2zM208 922h2v1h-2zM248 922h2v1h-2zM254 922h2v1h-2zM257 922h16v1h-16zM274 922h2v1h-2zM277 922h3v1h-3zM281 922h2v1h-2zM286 922h1v1h-1zM288 922h1v1h-1zM298 922h2v1h-2zM241 923h2v1h-2zM250 923h4v1h-4zM255 923h21v1h-21zM278 923h1v1h-1zM280 923h3v1h-3zM298 923h1v1h-1zM221 924h2v1h-2zM246 924h2v1h-2zM250 924h1v1h-1zM252 924h5v1h-5zM258 924h12v1h-12zM271 924h9v1h-9zM281 924h2v1h-2zM186 925h1v1h-1zM227 925h1v1h-1zM246 925h3v1h-3zM250 925h6v1h-6zM257 925h17v1h-17zM275 925h2v1h-2zM278 925h2v1h-2zM281 925h4v1h-4zM286 925h1v1h-1zM289 925h1v1h-1zM186 926h1v1h-1zM227 926h1v1h-1zM239 926h3v1h-3zM250 926h20v1h-20zM271 926h9v1h-9zM281 926h1v1h-1zM283 926h4v1h-4zM224 927h4v1h-4zM237 927h4v1h-4zM244 927h2v1h-2zM248 927h32v1h-32zM281 927h3v1h-3zM286 927h2v1h-2zM296 927h2v1h-2zM226 928h1v1h-1zM237 928h1v1h-1zM245 928h1v1h-1zM247 928h2v1h-2zM250 928h37v1h-37zM232 929h2v1h-2zM246 929h4v1h-4zM251 929h31v1h-31zM205 930h2v1h-2zM232 930h2v1h-2zM245 930h28v1h-28zM274 930h10v1h-10zM180 931h2v1h-2zM219 931h2v1h-2zM223 931h3v1h-3zM232 931h2v1h-2zM237 931h4v1h-4zM243 931h1v1h-1zM245 931h40v1h-40zM295 931h2v1h-2zM219 932h1v1h-1zM236 932h4v1h-4zM241 932h1v1h-1zM243 932h2v1h-2zM246 932h2v1h-2zM250 932h34v1h-34zM287 932h2v1h-2zM295 932h1v1h-1zM236 933h1v1h-1zM238 933h1v1h-1zM244 933h40v1h-40zM285 933h1v1h-1zM287 933h1v1h-1zM194 934h2v1h-2zM236 934h4v1h-4zM241 934h1v1h-1zM246 934h1v1h-1zM248 934h3v1h-3zM252 934h32v1h-32zM285 934h1v1h-1zM301 934h1v1h-1zM194 935h1v1h-1zM236 935h1v1h-1zM238 935h2v1h-2zM243 935h39v1h-39zM283 935h1v1h-1zM285 935h3v1h-3zM293 935h1v1h-1zM193 936h2v1h-2zM196 936h2v1h-2zM223 936h1v1h-1zM226 936h1v1h-1zM239 936h2v1h-2zM246 936h35v1h-35zM282 936h3v1h-3zM293 936h1v1h-1zM182 937h1v1h-1zM193 937h1v1h-1zM196 937h1v1h-1zM200 937h1v1h-1zM222 937h2v1h-2zM226 937h1v1h-1zM236 937h2v1h-2zM239 937h4v1h-4zM245 937h38v1h-38zM284 937h1v1h-1zM152 938h2v1h-2zM180 938h1v1h-1zM182 938h1v1h-1zM197 938h2v1h-2zM207 938h1v1h-1zM219 938h1v1h-1zM222 938h1v1h-1zM239 938h1v1h-1zM241 938h1v1h-1zM244 938h39v1h-39zM284 938h8v1h-8zM180 939h1v1h-1zM232 939h1v1h-1zM235 939h1v1h-1zM237 939h1v1h-1zM240 939h5v1h-5zM246 939h5v1h-5zM252 939h30v1h-30zM283 939h2v1h-2zM286 939h3v1h-3zM290 939h1v1h-1zM179 940h2v1h-2zM219 940h1v1h-1zM228 940h1v1h-1zM232 940h1v1h-1zM235 940h1v1h-1zM237 940h1v1h-1zM239 940h1v1h-1zM242 940h45v1h-45zM288 940h3v1h-3zM204 941h1v1h-1zM218 941h2v1h-2zM226 941h1v1h-1zM228 941h1v1h-1zM232 941h1v1h-1zM234 941h2v1h-2zM240 941h48v1h-48zM172 942h2v1h-2zM203 942h1v1h-1zM218 942h1v1h-1zM226 942h1v1h-1zM244 942h42v1h-42zM287 942h1v1h-1zM289 942h2v1h-2zM295 942h3v1h-3zM172 943h1v1h-1zM205 943h1v1h-1zM226 943h2v1h-2zM229 943h2v1h-2zM240 943h1v1h-1zM242 943h1v1h-1zM245 943h3v1h-3zM249 943h33v1h-33zM283 943h5v1h-5zM289 943h1v1h-1zM296 943h1v1h-1zM219 944h2v1h-2zM232 944h2v1h-2zM236 944h1v1h-1zM239 944h51v1h-51zM225 945h1v1h-1zM232 945h1v1h-1zM236 945h9v1h-9zM246 945h44v1h-44zM292 945h2v1h-2zM232 946h1v1h-1zM237 946h4v1h-4zM242 946h4v1h-4zM247 946h5v1h-5zM253 946h35v1h-35zM289 946h1v1h-1zM292 946h1v1h-1zM165 947h2v1h-2zM198 947h1v1h-1zM224 947h2v1h-2zM239 947h2v1h-2zM243 947h44v1h-44zM289 947h1v1h-1zM293 947h1v1h-1zM165 948h1v1h-1zM198 948h1v1h-1zM201 948h1v1h-1zM218 948h1v1h-1zM224 948h1v1h-1zM234 948h2v1h-2zM239 948h2v1h-2zM242 948h2v1h-2zM245 948h46v1h-46zM196 949h2v1h-2zM227 949h1v1h-1zM230 949h2v1h-2zM240 949h10v1h-10zM251 949h32v1h-32zM284 949h2v1h-2zM287 949h1v1h-1zM289 949h1v1h-1zM172 950h2v1h-2zM196 950h1v1h-1zM215 950h1v1h-1zM226 950h3v1h-3zM230 950h1v1h-1zM236 950h1v1h-1zM239 950h5v1h-5zM245 950h3v1h-3zM249 950h39v1h-39zM154 951h2v1h-2zM172 951h1v1h-1zM214 951h2v1h-2zM220 951h2v1h-2zM227 951h2v1h-2zM231 951h3v1h-3zM236 951h2v1h-2zM239 951h7v1h-7zM247 951h33v1h-33zM281 951h7v1h-7zM154 952h1v1h-1zM191 952h2v1h-2zM214 952h1v1h-1zM216 952h2v1h-2zM219 952h2v1h-2zM222 952h3v1h-3zM226 952h2v1h-2zM229 952h1v1h-1zM232 952h1v1h-1zM234 952h1v1h-1zM237 952h46v1h-46zM284 952h1v1h-1zM286 952h1v1h-1zM291 952h2v1h-2zM294 952h2v1h-2zM191 953h1v1h-1zM199 953h2v1h-2zM211 953h2v1h-2zM214 953h1v1h-1zM219 953h1v1h-1zM222 953h1v1h-1zM224 953h1v1h-1zM229 953h1v1h-1zM232 953h4v1h-4zM240 953h4v1h-4zM245 953h2v1h-2zM248 953h34v1h-34zM283 953h2v1h-2zM286 953h2v1h-2zM291 953h1v1h-1zM294 953h1v1h-1zM176 954h1v1h-1zM197 954h3v1h-3zM230 954h2v1h-2zM236 954h6v1h-6zM243 954h2v1h-2zM247 954h37v1h-37zM285 954h1v1h-1zM291 954h1v1h-1zM197 955h1v1h-1zM224 955h1v1h-1zM229 955h4v1h-4zM238 955h3v1h-3zM243 955h38v1h-38zM282 955h2v1h-2zM285 955h3v1h-3zM206 956h1v1h-1zM222 956h3v1h-3zM231 956h1v1h-1zM233 956h3v1h-3zM240 956h1v1h-1zM242 956h39v1h-39zM282 956h2v1h-2zM286 956h2v1h-2zM207 957h2v1h-2zM220 957h2v1h-2zM231 957h5v1h-5zM241 957h1v1h-1zM244 957h6v1h-6zM251 957h24v1h-24zM276 957h9v1h-9zM286 957h2v1h-2zM291 957h2v1h-2zM163 958h1v1h-1zM200 958h2v1h-2zM211 958h4v1h-4zM220 958h1v1h-1zM232 958h1v1h-1zM236 958h2v1h-2zM241 958h6v1h-6zM250 958h27v1h-27zM278 958h4v1h-4zM283 958h5v1h-5zM289 958h1v1h-1zM163 959h1v1h-1zM187 959h2v1h-2zM200 959h1v1h-1zM211 959h1v1h-1zM213 959h1v1h-1zM224 959h1v1h-1zM236 959h2v1h-2zM239 959h46v1h-46zM286 959h3v1h-3zM184 960h1v1h-1zM187 960h1v1h-1zM190 960h2v1h-2zM216 960h1v1h-1zM224 960h1v1h-1zM229 960h2v1h-2zM232 960h5v1h-5zM239 960h1v1h-1zM241 960h1v1h-1zM243 960h4v1h-4zM248 960h36v1h-36zM285 960h1v1h-1zM288 960h1v1h-1zM180 961h1v1h-1zM184 961h1v1h-1zM216 961h1v1h-1zM229 961h1v1h-1zM231 961h3v1h-3zM237 961h1v1h-1zM240 961h1v1h-1zM242 961h1v1h-1zM245 961h2v1h-2zM248 961h35v1h-35zM285 961h1v1h-1zM288 961h1v1h-1zM176 962h1v1h-1zM206 962h1v1h-1zM231 962h2v1h-2zM235 962h2v1h-2zM238 962h5v1h-5zM245 962h4v1h-4zM250 962h1v1h-1zM252 962h30v1h-30zM284 962h2v1h-2zM292 962h1v1h-1zM184 963h2v1h-2zM227 963h1v1h-1zM238 963h2v1h-2zM243 963h1v1h-1zM245 963h1v1h-1zM247 963h1v1h-1zM249 963h1v1h-1zM252 963h28v1h-28zM281 963h3v1h-3zM285 963h2v1h-2zM290 963h2v1h-2zM181 964h2v1h-2zM184 964h1v1h-1zM221 964h2v1h-2zM230 964h3v1h-3zM241 964h1v1h-1zM243 964h1v1h-1zM245 964h31v1h-31zM277 964h2v1h-2zM280 964h7v1h-7zM288 964h5v1h-5zM162 965h2v1h-2zM204 965h4v1h-4zM226 965h2v1h-2zM231 965h3v1h-3zM236 965h1v1h-1zM241 965h1v1h-1zM246 965h2v1h-2zM250 965h1v1h-1zM252 965h26v1h-26zM280 965h4v1h-4zM285 965h1v1h-1zM288 965h1v1h-1zM204 966h1v1h-1zM230 966h1v1h-1zM233 966h1v1h-1zM236 966h3v1h-3zM241 966h2v1h-2zM244 966h2v1h-2zM247 966h3v1h-3zM252 966h3v1h-3zM256 966h23v1h-23zM280 966h2v1h-2zM283 966h2v1h-2zM221 967h1v1h-1zM226 967h1v1h-1zM230 967h1v1h-1zM235 967h3v1h-3zM242 967h1v1h-1zM244 967h1v1h-1zM246 967h35v1h-35zM282 967h3v1h-3zM159 968h2v1h-2zM176 968h2v1h-2zM190 968h2v1h-2zM214 968h1v1h-1zM222 968h1v1h-1zM242 968h3v1h-3zM246 968h2v1h-2zM250 968h2v1h-2zM253 968h2v1h-2zM256 968h18v1h-18zM275 968h10v1h-10zM159 969h1v1h-1zM176 969h1v1h-1zM214 969h1v1h-1zM223 969h2v1h-2zM228 969h2v1h-2zM231 969h1v1h-1zM238 969h1v1h-1zM243 969h3v1h-3zM251 969h4v1h-4zM256 969h19v1h-19zM277 969h1v1h-1zM280 969h3v1h-3zM177 970h1v1h-1zM192 970h2v1h-2zM228 970h1v1h-1zM231 970h2v1h-2zM238 970h1v1h-1zM244 970h3v1h-3zM251 970h6v1h-6zM258 970h20v1h-20zM281 970h3v1h-3zM177 971h1v1h-1zM232 971h1v1h-1zM238 971h1v1h-1zM244 971h3v1h-3zM249 971h14v1h-14zM266 971h10v1h-10zM278 971h2v1h-2zM282 971h1v1h-1zM287 971h2v1h-2zM224 972h4v1h-4zM238 972h1v1h-1zM242 972h2v1h-2zM249 972h19v1h-19zM269 972h7v1h-7zM277 972h3v1h-3zM282 972h1v1h-1zM288 972h1v1h-1zM219 973h2v1h-2zM236 973h2v1h-2zM248 973h3v1h-3zM253 973h8v1h-8zM262 973h2v1h-2zM265 973h3v1h-3zM269 973h6v1h-6zM277 973h1v1h-1zM279 973h1v1h-1zM281 973h3v1h-3zM288 973h2v1h-2zM195 974h1v1h-1zM202 974h1v1h-1zM233 974h1v1h-1zM238 974h1v1h-1zM245 974h1v1h-1zM248 974h1v1h-1zM250 974h27v1h-27zM278 974h2v1h-2zM282 974h1v1h-1zM289 974h1v1h-1zM177 975h1v1h-1zM194 975h2v1h-2zM229 975h2v1h-2zM235 975h1v1h-1zM238 975h1v1h-1zM242 975h1v1h-1zM245 975h1v1h-1zM248 975h1v1h-1zM251 975h5v1h-5zM258 975h7v1h-7zM266 975h5v1h-5zM273 975h2v1h-2zM276 975h2v1h-2zM280 975h1v1h-1zM284 975h1v1h-1zM177 976h1v1h-1zM230 976h2v1h-2zM234 976h2v1h-2zM250 976h3v1h-3zM255 976h4v1h-4zM261 976h4v1h-4zM266 976h3v1h-3zM270 976h4v1h-4zM278 976h2v1h-2zM281 976h2v1h-2zM286 976h1v1h-1zM231 977h4v1h-4zM252 977h4v1h-4zM257 977h1v1h-1zM261 977h8v1h-8zM270 977h3v1h-3zM278 977h1v1h-1zM281 977h1v1h-1zM293 977h1v1h-1zM239 978h2v1h-2zM249 978h6v1h-6zM257 978h1v1h-1zM259 978h8v1h-8zM268 978h3v1h-3zM276 978h1v1h-1zM283 978h2v1h-2zM293 978h1v1h-1zM200 979h1v1h-1zM229 979h1v1h-1zM239 979h1v1h-1zM248 979h1v1h-1zM253 979h1v1h-1zM255 979h4v1h-4zM260 979h1v1h-1zM262 979h1v1h-1zM264 979h8v1h-8zM274 979h1v1h-1zM278 979h1v1h-1zM283 979h2v1h-2zM287 979h1v1h-1zM188 980h3v1h-3zM200 980h1v1h-1zM202 980h2v1h-2zM222 980h1v1h-1zM232 980h1v1h-1zM248 980h1v1h-1zM256 980h5v1h-5zM264 980h2v1h-2zM268 980h3v1h-3zM273 980h3v1h-3zM281 980h1v1h-1zM287 980h1v1h-1zM189 981h1v1h-1zM202 981h1v1h-1zM222 981h1v1h-1zM250 981h2v1h-2zM255 981h3v1h-3zM259 981h1v1h-1zM261 981h2v1h-2zM264 981h2v1h-2zM281 981h1v1h-1zM245 982h2v1h-2zM250 982h1v1h-1zM255 982h2v1h-2zM262 982h2v1h-2zM269 982h1v1h-1zM273 982h1v1h-1zM276 982h2v1h-2zM217 983h2v1h-2zM245 983h1v1h-1zM254 983h1v1h-1zM256 983h2v1h-2zM262 983h2v1h-2zM282 983h1v1h-1zM217 984h1v1h-1zM236 984h1v1h-1zM240 984h2v1h-2zM261 984h2v1h-2zM267 984h2v1h-2zM272 984h3v1h-3zM236 985h1v1h-1zM256 985h1v1h-1zM261 985h1v1h-1zM266 985h2v1h-2zM269 985h2v1h-2zM273 985h1v1h-1zM249 986h1v1h-1zM256 986h1v1h-1zM266 986h2v1h-2zM275 986h2v1h-2zM249 987h1v1h-1zM251 987h2v1h-2zM265 987h2v1h-2zM269 987h1v1h-1zM196 988h1v1h-1zM247 988h1v1h-1zM261 988h1v1h-1zM265 988h1v1h-1z" fill="#7030a0" shape-rendering="crispEdges"/>
<path d="M364 303.8C364.92 303.7 367.12 303.45 369.5 303.2C371.88 302.95 375.38 302.52 378.3 302.3C381.22 302.08 384.6 302.05 387 301.9C389.4 301.75 391.23 301.7 392.7 301.4C394.17 301.1 394.67 300.3 395.8 300.1C396.93 299.9 398.03 300.38 399.5 300.2C400.97 300.02 402.92 299.45 404.6 299C406.28 298.55 408.15 298.05 409.6 297.5C411.05 296.95 412.32 296.1 413.3 295.7C414.28 295.3 414.8 295.28 415.5 295.1C416.2 294.92 416.75 295.12 417.5 294.6C418.25 294.08 418.95 293.38 420 292C421.05 290.62 422.55 288.5 423.8 286.3C425.05 284.1 426.47 281.08 427.5 278.8C428.53 276.52 429.17 275.32 430 272.6C430.83 269.88 431.77 266.27 432.5 262.5C433.23 258.73 433.87 254.17 434.4 250C434.93 245.83 435.28 241.67 435.7 237.5C436.12 233.33 436.43 229.47 436.9 225C437.37 220.53 437.95 216.73 438.5 210.7C439.05 204.67 439.65 196.1 440.2 188.8C440.75 181.5 441.3 174.2 441.8 166.9C442.3 159.6 442.78 151.77 443.2 145C443.62 138.23 443.93 131.42 444.3 126.3C444.67 121.18 445.03 118.13 445.4 114.3C445.77 110.47 446.13 106.95 446.5 103.3C446.87 99.65 447.23 95.87 447.6 92.4C447.97 88.93 448.33 85.35 448.7 82.5C449.07 79.65 449.38 77.12 449.8 75.3C450.22 73.48 450.73 71.6 451.2 71.6C451.67 71.6 452.23 73.48 452.6 75.3C452.97 77.12 453.08 79.65 453.4 82.5C453.72 85.35 454.13 88.93 454.5 92.4C454.87 95.87 455.23 99.65 455.6 103.3C455.97 106.95 456.37 110.47 456.7 114.3C457.03 118.13 457.28 121.18 457.6 126.3C457.92 131.42 458.22 138.23 458.6 145C458.98 151.77 459.42 159.6 459.9 166.9C460.38 174.2 460.98 181.5 461.5 188.8C462.02 196.1 462.62 204.67 463 210.7C463.38 216.73 463.57 220.53 463.8 225C464.03 229.47 464.08 233.33 464.4 237.5C464.72 241.67 465.22 245.83 465.7 250C466.18 254.17 466.78 258.33 467.3 262.5C467.82 266.67 468.23 270.82 468.8 275C469.37 279.18 469.87 284.05 470.7 287.6C471.53 291.15 472.45 294.22 473.8 296.3C475.15 298.38 477.13 298.95 478.8 300.1C480.47 301.25 481.92 302.57 483.8 303.2C485.68 303.83 487.4 303.77 490.1 303.9C492.8 304.03 498.35 303.98 500 304L500 304L364 304Z" fill="#e9e9e9" stroke="none"/>
<path d="M364 303.8C364.92 303.7 367.12 303.45 369.5 303.2C371.88 302.95 375.38 302.52 378.3 302.3C381.22 302.08 384.6 302.05 387 301.9C389.4 301.75 391.23 301.7 392.7 301.4C394.17 301.1 394.67 300.3 395.8 300.1C396.93 299.9 398.03 300.38 399.5 300.2C400.97 300.02 402.92 299.45 404.6 299C406.28 298.55 408.15 298.05 409.6 297.5C411.05 296.95 412.32 296.1 413.3 295.7C414.28 295.3 414.8 295.28 415.5 295.1C416.2 294.92 416.75 295.12 417.5 294.6C418.25 294.08 418.95 293.38 420 292C421.05 290.62 422.55 288.5 423.8 286.3C425.05 284.1 426.47 281.08 427.5 278.8C428.53 276.52 429.17 275.32 430 272.6C430.83 269.88 431.77 266.27 432.5 262.5C433.23 258.73 433.87 254.17 434.4 250C434.93 245.83 435.28 241.67 435.7 237.5C436.12 233.33 436.43 229.47 436.9 225C437.37 220.53 437.95 216.73 438.5 210.7C439.05 204.67 439.65 196.1 440.2 188.8C440.75 181.5 441.3 174.2 441.8 166.9C442.3 159.6 442.78 151.77 443.2 145C443.62 138.23 443.93 131.42 444.3 126.3C444.67 121.18 445.03 118.13 445.4 114.3C445.77 110.47 446.13 106.95 446.5 103.3C446.87 99.65 447.23 95.87 447.6 92.4C447.97 88.93 448.33 85.35 448.7 82.5C449.07 79.65 449.38 77.12 449.8 75.3C450.22 73.48 450.73 71.6 451.2 71.6C451.67 71.6 452.23 73.48 452.6 75.3C452.97 77.12 453.08 79.65 453.4 82.5C453.72 85.35 454.13 88.93 454.5 92.4C454.87 95.87 455.23 99.65 455.6 103.3C455.97 106.95 456.37 110.47 456.7 114.3C457.03 118.13 457.28 121.18 457.6 126.3C457.92 131.42 458.22 138.23 458.6 145C458.98 151.77 459.42 159.6 459.9 166.9C460.38 174.2 460.98 181.5 461.5 188.8C462.02 196.1 462.62 204.67 463 210.7C463.38 216.73 463.57 220.53 463.8 225C464.03 229.47 464.08 233.33 464.4 237.5C464.72 241.67 465.22 245.83 465.7 250C466.18 254.17 466.78 258.33 467.3 262.5C467.82 266.67 468.23 270.82 468.8 275C469.37 279.18 469.87 284.05 470.7 287.6C471.53 291.15 472.45 294.22 473.8 296.3C475.15 298.38 477.13 298.95 478.8 300.1C480.47 301.25 481.92 302.57 483.8 303.2C485.68 303.83 487.4 303.77 490.1 303.9C492.8 304.03 498.35 303.98 500 304" fill="none" stroke="#111" stroke-width="1.5" stroke-linejoin="round"/>
<path d="M498 304C499.17 303.87 503.2 304.07 505 303.2C506.8 302.33 507.55 300.78 508.8 298.8C510.05 296.82 511.47 294 512.5 291.3C513.53 288.6 514.2 285.73 515 282.6C515.8 279.47 516.67 276.27 517.3 272.5C517.93 268.73 518.35 264.17 518.8 260C519.25 255.83 519.58 251.67 520 247.5C520.42 243.33 520.93 240.08 521.3 235C521.67 229.92 521.77 224.02 522.2 217C522.63 209.98 523.43 199.67 523.9 192.9C524.37 186.13 524.63 181.88 525 176.4C525.37 170.92 525.8 165.57 526.1 160C526.4 154.43 526.5 149.95 526.8 143C527.1 136.05 527.53 125.15 527.9 118.3C528.27 111.45 528.63 107.18 529 101.9C529.37 96.62 529.72 90.92 530.1 86.6C530.48 82.28 530.83 78.5 531.3 76C531.77 73.5 532.37 71.6 532.9 71.6C533.43 71.6 534.05 73.5 534.5 76C534.95 78.5 535.23 82.28 535.6 86.6C535.97 90.92 536.33 96.62 536.7 101.9C537.07 107.18 537.43 112.82 537.8 118.3C538.17 123.78 538.53 129.32 538.9 134.8C539.27 140.28 539.67 146.17 540 151.2C540.33 156.23 540.67 160.8 540.9 165C541.13 169.2 541.18 171.75 541.4 176.4C541.62 181.05 541.88 187.42 542.2 192.9C542.52 198.38 542.88 203.83 543.3 209.3C543.72 214.77 544.33 221.25 544.7 225.7C545.07 230.15 545.23 232.37 545.5 236C545.77 239.63 545.95 243.5 546.3 247.5C546.65 251.5 547.08 255.83 547.6 260C548.12 264.17 548.78 268.73 549.4 272.5C550.02 276.27 550.57 279.47 551.3 282.6C552.03 285.73 552.97 288.6 553.8 291.3C554.63 294 555.25 296.82 556.3 298.8C557.35 300.78 558.65 302.33 560.1 303.2C561.55 304.07 564.18 303.87 565 304L565 304L498 304Z" fill="#eaf7ef" stroke="none"/>
<path d="M498 304C499.17 303.87 503.2 304.07 505 303.2C506.8 302.33 507.55 300.78 508.8 298.8C510.05 296.82 511.47 294 512.5 291.3C513.53 288.6 514.2 285.73 515 282.6C515.8 279.47 516.67 276.27 517.3 272.5C517.93 268.73 518.35 264.17 518.8 260C519.25 255.83 519.58 251.67 520 247.5C520.42 243.33 520.93 240.08 521.3 235C521.67 229.92 521.77 224.02 522.2 217C522.63 209.98 523.43 199.67 523.9 192.9C524.37 186.13 524.63 181.88 525 176.4C525.37 170.92 525.8 165.57 526.1 160C526.4 154.43 526.5 149.95 526.8 143C527.1 136.05 527.53 125.15 527.9 118.3C528.27 111.45 528.63 107.18 529 101.9C529.37 96.62 529.72 90.92 530.1 86.6C530.48 82.28 530.83 78.5 531.3 76C531.77 73.5 532.37 71.6 532.9 71.6C533.43 71.6 534.05 73.5 534.5 76C534.95 78.5 535.23 82.28 535.6 86.6C535.97 90.92 536.33 96.62 536.7 101.9C537.07 107.18 537.43 112.82 537.8 118.3C538.17 123.78 538.53 129.32 538.9 134.8C539.27 140.28 539.67 146.17 540 151.2C540.33 156.23 540.67 160.8 540.9 165C541.13 169.2 541.18 171.75 541.4 176.4C541.62 181.05 541.88 187.42 542.2 192.9C542.52 198.38 542.88 203.83 543.3 209.3C543.72 214.77 544.33 221.25 544.7 225.7C545.07 230.15 545.23 232.37 545.5 236C545.77 239.63 545.95 243.5 546.3 247.5C546.65 251.5 547.08 255.83 547.6 260C548.12 264.17 548.78 268.73 549.4 272.5C550.02 276.27 550.57 279.47 551.3 282.6C552.03 285.73 552.97 288.6 553.8 291.3C554.63 294 555.25 296.82 556.3 298.8C557.35 300.78 558.65 302.33 560.1 303.2C561.55 304.07 564.18 303.87 565 304" fill="none" stroke="#2aa964" stroke-width="1.5" stroke-linejoin="round"/>
<path d="M370.8 639C371.27 639.17 372.65 639.77 373.6 640C374.55 640.23 375.63 640.65 376.5 640.4C377.37 640.15 378.1 639.12 378.8 638.5C379.5 637.88 379.92 636.85 380.7 636.7C381.48 636.55 382.42 637.92 383.5 637.6C384.58 637.28 386.03 635.35 387.2 634.8C388.37 634.25 389.32 634.77 390.5 634.3C391.68 633.83 393.05 632.38 394.3 632C395.55 631.62 396.9 632.47 398 632C399.1 631.53 399.95 630.3 400.9 629.2C401.85 628.1 402.77 626.73 403.7 625.4C404.63 624.07 405.72 622.07 406.5 621.2C407.28 620.33 407.73 621.23 408.4 620.2C409.07 619.17 409.77 616.68 410.5 615C411.23 613.32 411.83 611.87 412.8 610.1C413.77 608.33 415.12 606.98 416.3 604.4C417.48 601.82 418.83 597.65 419.9 594.6C420.97 591.55 421.88 588.45 422.7 586.1C423.52 583.75 423.87 582.6 424.8 580.5C425.73 578.4 427.35 576.17 428.3 573.5C429.25 570.83 429.8 567.15 430.5 564.5C431.2 561.85 431.85 560.02 432.5 557.6C433.15 555.18 433.77 552.5 434.4 550C435.03 547.5 435.67 545.1 436.3 542.6C436.93 540.1 437.58 537.93 438.2 535C438.82 532.07 439.53 528.53 440 525C440.47 521.47 440.68 517.13 441 513.8C441.32 510.47 441.43 507.3 441.9 505C442.37 502.7 443.17 501.67 443.8 500C444.43 498.33 445.18 497.5 445.7 495C446.22 492.5 446.6 487.9 446.9 485C447.2 482.1 447.23 480.5 447.5 477.6C447.77 474.7 448.18 470.93 448.5 467.6C448.82 464.27 449.03 460.73 449.4 457.6C449.77 454.47 450.18 451.52 450.7 448.8C451.22 446.08 451.95 444.02 452.5 441.3C453.05 438.58 453.58 435.22 454 432.5C454.42 429.78 454.52 426.67 455 425C455.48 423.33 456.37 423.75 456.9 422.5C457.43 421.25 457.62 419.03 458.2 417.5C458.78 415.97 459.68 413.3 460.4 413.3C461.12 413.3 461.77 415.97 462.5 417.5C463.23 419.03 464.27 420.42 464.8 422.5C465.33 424.58 465.45 427.08 465.7 430C465.95 432.92 465.98 436.67 466.3 440C466.62 443.33 467.18 446.87 467.6 450C468.02 453.13 468.38 455.67 468.8 458.8C469.22 461.93 469.68 465.67 470.1 468.8C470.52 471.93 471.02 474.9 471.3 477.6C471.58 480.3 471.58 481.68 471.8 485C472.02 488.32 472.37 493.33 472.6 497.5C472.83 501.67 473 505.83 473.2 510C473.4 514.17 473.53 518.33 473.8 522.5C474.07 526.67 474.48 530.82 474.8 535C475.12 539.18 475.4 543.43 475.7 547.6C476 551.77 476.33 556.27 476.6 560C476.87 563.73 477.02 566.82 477.3 570C477.58 573.18 477.9 575.23 478.3 579.1C478.7 582.97 479.12 588.5 479.7 593.2C480.28 597.9 481.1 602.62 481.8 607.3C482.5 611.98 483.18 617.08 483.9 621.3C484.62 625.52 485.27 629.55 486.1 632.6C486.93 635.65 487.85 637.6 488.9 639.6C489.95 641.6 490.55 643.53 492.4 644.6C494.25 645.67 497.9 645.75 500 646C502.1 646.25 504.17 646.08 505 646.1L505 646L370.8 646Z" fill="#e9e9e9" stroke="none"/>
<path d="M370.8 639C371.27 639.17 372.65 639.77 373.6 640C374.55 640.23 375.63 640.65 376.5 640.4C377.37 640.15 378.1 639.12 378.8 638.5C379.5 637.88 379.92 636.85 380.7 636.7C381.48 636.55 382.42 637.92 383.5 637.6C384.58 637.28 386.03 635.35 387.2 634.8C388.37 634.25 389.32 634.77 390.5 634.3C391.68 633.83 393.05 632.38 394.3 632C395.55 631.62 396.9 632.47 398 632C399.1 631.53 399.95 630.3 400.9 629.2C401.85 628.1 402.77 626.73 403.7 625.4C404.63 624.07 405.72 622.07 406.5 621.2C407.28 620.33 407.73 621.23 408.4 620.2C409.07 619.17 409.77 616.68 410.5 615C411.23 613.32 411.83 611.87 412.8 610.1C413.77 608.33 415.12 606.98 416.3 604.4C417.48 601.82 418.83 597.65 419.9 594.6C420.97 591.55 421.88 588.45 422.7 586.1C423.52 583.75 423.87 582.6 424.8 580.5C425.73 578.4 427.35 576.17 428.3 573.5C429.25 570.83 429.8 567.15 430.5 564.5C431.2 561.85 431.85 560.02 432.5 557.6C433.15 555.18 433.77 552.5 434.4 550C435.03 547.5 435.67 545.1 436.3 542.6C436.93 540.1 437.58 537.93 438.2 535C438.82 532.07 439.53 528.53 440 525C440.47 521.47 440.68 517.13 441 513.8C441.32 510.47 441.43 507.3 441.9 505C442.37 502.7 443.17 501.67 443.8 500C444.43 498.33 445.18 497.5 445.7 495C446.22 492.5 446.6 487.9 446.9 485C447.2 482.1 447.23 480.5 447.5 477.6C447.77 474.7 448.18 470.93 448.5 467.6C448.82 464.27 449.03 460.73 449.4 457.6C449.77 454.47 450.18 451.52 450.7 448.8C451.22 446.08 451.95 444.02 452.5 441.3C453.05 438.58 453.58 435.22 454 432.5C454.42 429.78 454.52 426.67 455 425C455.48 423.33 456.37 423.75 456.9 422.5C457.43 421.25 457.62 419.03 458.2 417.5C458.78 415.97 459.68 413.3 460.4 413.3C461.12 413.3 461.77 415.97 462.5 417.5C463.23 419.03 464.27 420.42 464.8 422.5C465.33 424.58 465.45 427.08 465.7 430C465.95 432.92 465.98 436.67 466.3 440C466.62 443.33 467.18 446.87 467.6 450C468.02 453.13 468.38 455.67 468.8 458.8C469.22 461.93 469.68 465.67 470.1 468.8C470.52 471.93 471.02 474.9 471.3 477.6C471.58 480.3 471.58 481.68 471.8 485C472.02 488.32 472.37 493.33 472.6 497.5C472.83 501.67 473 505.83 473.2 510C473.4 514.17 473.53 518.33 473.8 522.5C474.07 526.67 474.48 530.82 474.8 535C475.12 539.18 475.4 543.43 475.7 547.6C476 551.77 476.33 556.27 476.6 560C476.87 563.73 477.02 566.82 477.3 570C477.58 573.18 477.9 575.23 478.3 579.1C478.7 582.97 479.12 588.5 479.7 593.2C480.28 597.9 481.1 602.62 481.8 607.3C482.5 611.98 483.18 617.08 483.9 621.3C484.62 625.52 485.27 629.55 486.1 632.6C486.93 635.65 487.85 637.6 488.9 639.6C489.95 641.6 490.55 643.53 492.4 644.6C494.25 645.67 497.9 645.75 500 646C502.1 646.25 504.17 646.08 505 646.1" fill="none" stroke="#111" stroke-width="1.5" stroke-linejoin="round"/>
<path d="M485 646.1C485.77 646.03 487.93 645.97 489.6 645.7C491.27 645.43 493.47 645.02 495 644.5C496.53 643.98 497.33 643.55 498.8 642.6C500.27 641.65 502.13 640.9 503.8 638.8C505.47 636.7 507.35 633.13 508.8 630C510.25 626.87 511.35 623.33 512.5 620C513.65 616.67 514.75 613.33 515.7 610C516.65 606.67 517.48 603.75 518.2 600C518.92 596.25 519.38 591.67 520 587.5C520.62 583.33 521.33 579.58 521.9 575C522.47 570.42 522.88 565.83 523.4 560C523.92 554.17 524.37 546.67 525 540C525.63 533.33 526.47 526.67 527.2 520C527.93 513.33 528.72 507 529.4 500C530.08 493 530.67 485.08 531.3 478C531.93 470.92 532.62 463.5 533.2 457.5C533.78 451.5 534.28 446.78 534.8 442C535.32 437.22 535.73 432.8 536.3 428.8C536.87 424.8 537.52 420.53 538.2 418C538.88 415.47 539.67 413.6 540.4 413.6C541.13 413.6 541.93 415.47 542.6 418C543.27 420.53 543.75 424.8 544.4 428.8C545.05 432.8 545.77 437.22 546.5 442C547.23 446.78 547.97 451.5 548.8 457.5C549.63 463.5 550.57 470.92 551.5 478C552.43 485.08 553.57 493 554.4 500C555.23 507 555.82 513.33 556.5 520C557.18 526.67 557.78 533.33 558.5 540C559.22 546.67 560.13 554.17 560.8 560C561.47 565.83 562 570.42 562.5 575C563 579.58 563.27 583.33 563.8 587.5C564.33 591.67 564.97 596.03 565.7 600C566.43 603.97 567.27 607.53 568.2 611.3C569.13 615.07 570.17 619.27 571.3 622.6C572.43 625.93 573.72 628.98 575 631.3C576.28 633.62 577.67 635.13 579 636.5C580.33 637.87 581.52 638.55 583 639.5C584.48 640.45 586.07 641.45 587.9 642.2C589.73 642.95 592 643.53 594 644C596 644.47 597.32 644.7 599.9 645C602.48 645.3 606.98 645.62 609.5 645.8C612.02 645.98 614.08 646.05 615 646.1L615 646L485 646Z" fill="#fcf1ec" stroke="none"/>
<path d="M485 646.1C485.77 646.03 487.93 645.97 489.6 645.7C491.27 645.43 493.47 645.02 495 644.5C496.53 643.98 497.33 643.55 498.8 642.6C500.27 641.65 502.13 640.9 503.8 638.8C505.47 636.7 507.35 633.13 508.8 630C510.25 626.87 511.35 623.33 512.5 620C513.65 616.67 514.75 613.33 515.7 610C516.65 606.67 517.48 603.75 518.2 600C518.92 596.25 519.38 591.67 520 587.5C520.62 583.33 521.33 579.58 521.9 575C522.47 570.42 522.88 565.83 523.4 560C523.92 554.17 524.37 546.67 525 540C525.63 533.33 526.47 526.67 527.2 520C527.93 513.33 528.72 507 529.4 500C530.08 493 530.67 485.08 531.3 478C531.93 470.92 532.62 463.5 533.2 457.5C533.78 451.5 534.28 446.78 534.8 442C535.32 437.22 535.73 432.8 536.3 428.8C536.87 424.8 537.52 420.53 538.2 418C538.88 415.47 539.67 413.6 540.4 413.6C541.13 413.6 541.93 415.47 542.6 418C543.27 420.53 543.75 424.8 544.4 428.8C545.05 432.8 545.77 437.22 546.5 442C547.23 446.78 547.97 451.5 548.8 457.5C549.63 463.5 550.57 470.92 551.5 478C552.43 485.08 553.57 493 554.4 500C555.23 507 555.82 513.33 556.5 520C557.18 526.67 557.78 533.33 558.5 540C559.22 546.67 560.13 554.17 560.8 560C561.47 565.83 562 570.42 562.5 575C563 579.58 563.27 583.33 563.8 587.5C564.33 591.67 564.97 596.03 565.7 600C566.43 603.97 567.27 607.53 568.2 611.3C569.13 615.07 570.17 619.27 571.3 622.6C572.43 625.93 573.72 628.98 575 631.3C576.28 633.62 577.67 635.13 579 636.5C580.33 637.87 581.52 638.55 583 639.5C584.48 640.45 586.07 641.45 587.9 642.2C589.73 642.95 592 643.53 594 644C596 644.47 597.32 644.7 599.9 645C602.48 645.3 606.98 645.62 609.5 645.8C612.02 645.98 614.08 646.05 615 646.1" fill="none" stroke="#d9822b" stroke-width="1.5" stroke-linejoin="round"/>
<path d="M375.8 989.3C376.22 989.22 377.47 989.07 378.3 988.8C379.13 988.53 379.97 987.85 380.8 987.7C381.63 987.55 382.47 988.13 383.3 987.9C384.13 987.67 384.97 986.87 385.8 986.3C386.63 985.73 387.52 985.08 388.3 984.5C389.08 983.92 389.58 983.62 390.5 982.8C391.42 981.98 392.88 980.78 393.8 979.6C394.72 978.42 395.27 977.27 396 975.7C396.73 974.13 397.37 971.65 398.2 970.2C399.03 968.75 400 968.63 401 967C402 965.37 403.2 962.6 404.2 960.4C405.2 958.2 406.08 956.72 407 953.8C407.92 950.88 408.88 946.55 409.7 942.9C410.52 939.25 411.27 935.55 411.9 931.9C412.53 928.25 412.98 924.65 413.5 921C414.02 917.35 414.58 913.38 415 910C415.42 906.62 415.58 904.07 416 900.7C416.42 897.33 417.02 893.45 417.5 889.8C417.98 886.15 418.42 882.45 418.9 878.8C419.38 875.15 419.92 871.55 420.4 867.9C420.88 864.25 421.28 860.55 421.8 856.9C422.32 853.25 423.03 849.65 423.5 846C423.97 842.35 424.25 838.3 424.6 835C424.95 831.7 425.3 829.5 425.6 826.2C425.9 822.9 426.1 818.85 426.4 815.2C426.7 811.55 427.07 807.95 427.4 804.3C427.73 800.65 428.03 796.95 428.4 793.3C428.77 789.65 429.18 786.05 429.6 782.4C430.02 778.75 430.52 774.43 430.9 771.4C431.28 768.37 431.52 765.85 431.9 764.2C432.28 762.55 432.75 761.5 433.2 761.5C433.65 761.5 434.2 762.55 434.6 764.2C435 765.85 435.3 768.37 435.6 771.4C435.9 774.43 436.13 778.75 436.4 782.4C436.67 786.05 436.97 789.65 437.2 793.3C437.43 796.95 437.62 800.65 437.8 804.3C437.98 807.95 438.12 811.55 438.3 815.2C438.48 818.85 438.75 822.9 438.9 826.2C439.05 829.5 439.03 831.7 439.2 835C439.37 838.3 439.7 842.35 439.9 846C440.1 849.65 440.23 853.25 440.4 856.9C440.57 860.55 440.73 864.25 440.9 867.9C441.07 871.55 441.23 875.15 441.4 878.8C441.57 882.45 441.73 886.15 441.9 889.8C442.07 893.45 442.25 897.33 442.4 900.7C442.55 904.07 442.62 906.62 442.8 910C442.98 913.38 443.27 917.35 443.5 921C443.73 924.65 443.95 928.25 444.2 931.9C444.45 935.55 444.72 939.25 445 942.9C445.28 946.55 445.62 950.15 445.9 953.8C446.18 957.45 446.43 961.15 446.7 964.8C446.97 968.45 447.18 972.05 447.5 975.7C447.82 979.35 448.15 983.97 448.6 986.7C449.05 989.43 449.38 990.97 450.2 992.1C451.02 993.23 452.53 993.23 453.5 993.5C454.47 993.77 455.58 993.67 456 993.7L456 993.5L375.8 993.5Z" fill="#e9e9e9" stroke="none"/>
<path d="M375.8 989.3C376.22 989.22 377.47 989.07 378.3 988.8C379.13 988.53 379.97 987.85 380.8 987.7C381.63 987.55 382.47 988.13 383.3 987.9C384.13 987.67 384.97 986.87 385.8 986.3C386.63 985.73 387.52 985.08 388.3 984.5C389.08 983.92 389.58 983.62 390.5 982.8C391.42 981.98 392.88 980.78 393.8 979.6C394.72 978.42 395.27 977.27 396 975.7C396.73 974.13 397.37 971.65 398.2 970.2C399.03 968.75 400 968.63 401 967C402 965.37 403.2 962.6 404.2 960.4C405.2 958.2 406.08 956.72 407 953.8C407.92 950.88 408.88 946.55 409.7 942.9C410.52 939.25 411.27 935.55 411.9 931.9C412.53 928.25 412.98 924.65 413.5 921C414.02 917.35 414.58 913.38 415 910C415.42 906.62 415.58 904.07 416 900.7C416.42 897.33 417.02 893.45 417.5 889.8C417.98 886.15 418.42 882.45 418.9 878.8C419.38 875.15 419.92 871.55 420.4 867.9C420.88 864.25 421.28 860.55 421.8 856.9C422.32 853.25 423.03 849.65 423.5 846C423.97 842.35 424.25 838.3 424.6 835C424.95 831.7 425.3 829.5 425.6 826.2C425.9 822.9 426.1 818.85 426.4 815.2C426.7 811.55 427.07 807.95 427.4 804.3C427.73 800.65 428.03 796.95 428.4 793.3C428.77 789.65 429.18 786.05 429.6 782.4C430.02 778.75 430.52 774.43 430.9 771.4C431.28 768.37 431.52 765.85 431.9 764.2C432.28 762.55 432.75 761.5 433.2 761.5C433.65 761.5 434.2 762.55 434.6 764.2C435 765.85 435.3 768.37 435.6 771.4C435.9 774.43 436.13 778.75 436.4 782.4C436.67 786.05 436.97 789.65 437.2 793.3C437.43 796.95 437.62 800.65 437.8 804.3C437.98 807.95 438.12 811.55 438.3 815.2C438.48 818.85 438.75 822.9 438.9 826.2C439.05 829.5 439.03 831.7 439.2 835C439.37 838.3 439.7 842.35 439.9 846C440.1 849.65 440.23 853.25 440.4 856.9C440.57 860.55 440.73 864.25 440.9 867.9C441.07 871.55 441.23 875.15 441.4 878.8C441.57 882.45 441.73 886.15 441.9 889.8C442.07 893.45 442.25 897.33 442.4 900.7C442.55 904.07 442.62 906.62 442.8 910C442.98 913.38 443.27 917.35 443.5 921C443.73 924.65 443.95 928.25 444.2 931.9C444.45 935.55 444.72 939.25 445 942.9C445.28 946.55 445.62 950.15 445.9 953.8C446.18 957.45 446.43 961.15 446.7 964.8C446.97 968.45 447.18 972.05 447.5 975.7C447.82 979.35 448.15 983.97 448.6 986.7C449.05 989.43 449.38 990.97 450.2 992.1C451.02 993.23 452.53 993.23 453.5 993.5C454.47 993.77 455.58 993.67 456 993.7" fill="none" stroke="#111" stroke-width="1.5" stroke-linejoin="round"/>
<path d="M449 993.7C449.67 993.65 451.3 993.85 453 993.4C454.7 992.95 457.2 991.7 459.2 991C461.2 990.3 463.2 989.77 465 989.2C466.8 988.63 468.43 987.87 470 987.6C471.57 987.33 473.12 987.32 474.4 987.6C475.68 987.88 476.78 989.3 477.7 989.3C478.62 989.3 479 988.15 479.9 987.6C480.8 987.05 482.02 986.55 483.1 986C484.18 985.45 485.3 985.3 486.4 984.3C487.5 983.3 488.78 981.27 489.7 980C490.62 978.73 491.17 977.53 491.9 976.7C492.63 975.87 493.4 975.73 494.1 975C494.8 974.27 495.52 974.22 496.1 972.3C496.68 970.38 497.05 967.33 497.6 963.5C498.15 959.67 498.85 954.4 499.4 949.3C499.95 944.2 500.47 938.38 500.9 932.9C501.33 927.42 501.67 921.88 502 916.4C502.33 910.92 502.6 906.07 502.9 900C503.2 893.93 503.52 886.67 503.8 880C504.08 873.33 504.33 865.87 504.6 860C504.87 854.13 505.2 849.68 505.4 844.8C505.6 839.92 505.62 835.4 505.8 830.7C505.98 826 506.27 821.28 506.5 816.6C506.73 811.92 506.95 807.28 507.2 802.6C507.45 797.92 507.77 792.97 508 788.5C508.23 784.03 508.38 779.55 508.6 775.8C508.82 772.05 509.02 768.38 509.3 766C509.58 763.62 509.97 761.5 510.3 761.5C510.63 761.5 511.03 763.62 511.3 766C511.57 768.38 511.67 772.05 511.9 775.8C512.13 779.55 512.45 784.03 512.7 788.5C512.95 792.97 513.17 797.92 513.4 802.6C513.63 807.28 513.85 811.92 514.1 816.6C514.35 821.28 514.67 826 514.9 830.7C515.13 835.4 515.3 839.92 515.5 844.8C515.7 849.68 515.92 854.13 516.1 860C516.28 865.87 516.43 873.33 516.6 880C516.77 886.67 516.87 893.93 517.1 900C517.33 906.07 517.73 910.92 518 916.4C518.27 921.88 518.4 927.42 518.7 932.9C519 938.38 519.43 943.83 519.8 949.3C520.17 954.77 520.47 960.77 520.9 965.7C521.33 970.63 521.9 975.25 522.4 978.9C522.9 982.55 523.42 985.33 523.9 987.6C524.38 989.87 524.62 991.5 525.3 992.5C525.98 993.5 526.88 993.4 528 993.6C529.12 993.8 531.33 993.68 532 993.7L532 993.5L449 993.5Z" fill="#f2eef9" stroke="none"/>
<path d="M449 993.7C449.67 993.65 451.3 993.85 453 993.4C454.7 992.95 457.2 991.7 459.2 991C461.2 990.3 463.2 989.77 465 989.2C466.8 988.63 468.43 987.87 470 987.6C471.57 987.33 473.12 987.32 474.4 987.6C475.68 987.88 476.78 989.3 477.7 989.3C478.62 989.3 479 988.15 479.9 987.6C480.8 987.05 482.02 986.55 483.1 986C484.18 985.45 485.3 985.3 486.4 984.3C487.5 983.3 488.78 981.27 489.7 980C490.62 978.73 491.17 977.53 491.9 976.7C492.63 975.87 493.4 975.73 494.1 975C494.8 974.27 495.52 974.22 496.1 972.3C496.68 970.38 497.05 967.33 497.6 963.5C498.15 959.67 498.85 954.4 499.4 949.3C499.95 944.2 500.47 938.38 500.9 932.9C501.33 927.42 501.67 921.88 502 916.4C502.33 910.92 502.6 906.07 502.9 900C503.2 893.93 503.52 886.67 503.8 880C504.08 873.33 504.33 865.87 504.6 860C504.87 854.13 505.2 849.68 505.4 844.8C505.6 839.92 505.62 835.4 505.8 830.7C505.98 826 506.27 821.28 506.5 816.6C506.73 811.92 506.95 807.28 507.2 802.6C507.45 797.92 507.77 792.97 508 788.5C508.23 784.03 508.38 779.55 508.6 775.8C508.82 772.05 509.02 768.38 509.3 766C509.58 763.62 509.97 761.5 510.3 761.5C510.63 761.5 511.03 763.62 511.3 766C511.57 768.38 511.67 772.05 511.9 775.8C512.13 779.55 512.45 784.03 512.7 788.5C512.95 792.97 513.17 797.92 513.4 802.6C513.63 807.28 513.85 811.92 514.1 816.6C514.35 821.28 514.67 826 514.9 830.7C515.13 835.4 515.3 839.92 515.5 844.8C515.7 849.68 515.92 854.13 516.1 860C516.28 865.87 516.43 873.33 516.6 880C516.77 886.67 516.87 893.93 517.1 900C517.33 906.07 517.73 910.92 518 916.4C518.27 921.88 518.4 927.42 518.7 932.9C519 938.38 519.43 943.83 519.8 949.3C520.17 954.77 520.47 960.77 520.9 965.7C521.33 970.63 521.9 975.25 522.4 978.9C522.9 982.55 523.42 985.33 523.9 987.6C524.38 989.87 524.62 991.5 525.3 992.5C525.98 993.5 526.88 993.4 528 993.6C529.12 993.8 531.33 993.68 532 993.7" fill="none" stroke="#8a4cc4" stroke-width="1.5" stroke-linejoin="round"/>
<rect x="178.2" y="52.3" width="9.0" height="9.2" fill="#00b050"/>
<text x="193.96" y="61.4" font-size="12.4" fill="#222">Stained / EpCam+</text>
<rect x="178.2" y="70.9" width="9.0" height="9.2" fill="#000"/>
<text x="193.96" y="80" font-size="12.4" fill="#222">Unstained / Singlet</text>
<rect x="466" y="50.3" width="142.6" height="36.3" fill="#fff" fill-opacity="0.88"/>
<rect x="468.7" y="54" width="27.1" height="8.1" fill="#eaf7ef" stroke="#2aa964" stroke-width="1.4"/>
<text x="503.86" y="61.9" font-size="12.4" fill="#222">Stained / EpCam+</text>
<rect x="468.7" y="72.7" width="27.1" height="8.1" fill="#e9e9e9" stroke="#222" stroke-width="1.4"/>
<text x="503.86" y="80.6" font-size="12.4" fill="#222">Unstained / Singlet</text>
<rect x="176.3" y="394.7" width="9.0" height="9.2" fill="#e46c0a"/>
<text x="192.46" y="403.8" font-size="12.4" fill="#222">Stained / EpCam+</text>
<rect x="176.3" y="413.4" width="9.0" height="9.2" fill="#000"/>
<text x="192.46" y="422.5" font-size="12.4" fill="#222">Unstained / Singlet</text>
<rect x="472.5" y="392.5" width="142.1" height="36.8" fill="#fff" fill-opacity="0.88"/>
<rect x="475.2" y="396.2" width="27.1" height="8.1" fill="#fcf1ec" stroke="#d9822b" stroke-width="1.4"/>
<text x="509.86" y="404.4" font-size="12.4" fill="#222">Stained / EpCam+</text>
<rect x="475.2" y="415.1" width="27.1" height="8.1" fill="#e9e9e9" stroke="#222" stroke-width="1.4"/>
<text x="509.86" y="423.3" font-size="12.4" fill="#222">Unstained / Singlet</text>
<rect x="190.3" y="737.2" width="9.0" height="9.2" fill="#7030a0"/>
<text x="206.66" y="746.9" font-size="12.4" fill="#222">Stained / Epcam+</text>
<rect x="190.3" y="755.6" width="9.0" height="9.2" fill="#000"/>
<text x="206.66" y="765.3" font-size="12.4" fill="#222">Unstained / Cells</text>
<rect x="477.6" y="739" width="141.9" height="37.1" fill="#fff" fill-opacity="0.88"/>
<rect x="480.3" y="742.7" width="27.1" height="8.1" fill="#f2eef9" stroke="#8a4cc4" stroke-width="1.4"/>
<text x="514.76" y="751.2" font-size="12.4" fill="#222">Stained / Epcam+</text>
<rect x="480.3" y="761.6" width="27.1" height="8.1" fill="#e9e9e9" stroke="#222" stroke-width="1.4"/>
<text x="514.76" y="770.1" font-size="12.4" fill="#222">Unstained / Singlet</text>
<path d="M54.7 46.7H304.7V306.2" fill="none" stroke="#222" stroke-width="1.4"/>
<path d="M54.7 46V306.2H305.4" fill="none" stroke="#222" stroke-width="1.6"/>
<path d="M54.7 306.2v4.6M67.24 306.2v2.0M74.58 306.2v2.0M79.79 306.2v2.0M83.82 306.2v2.0M87.12 306.2v2.0M89.91 306.2v2.0M92.33 306.2v2.0M94.46 306.2v2.0M96.37 306.2v4.6M108.91 306.2v2.0M116.25 306.2v2.0M121.45 306.2v2.0M125.49 306.2v2.0M128.79 306.2v2.0M131.58 306.2v2.0M134 306.2v2.0M136.13 306.2v2.0M138.03 306.2v4.6M150.58 306.2v2.0M157.91 306.2v2.0M163.12 306.2v2.0M167.16 306.2v2.0M170.46 306.2v2.0M173.25 306.2v2.0M175.66 306.2v2.0M177.79 306.2v2.0M179.7 306.2v4.6M192.24 306.2v2.0M199.58 306.2v2.0M204.79 306.2v2.0M208.82 306.2v2.0M212.12 306.2v2.0M214.91 306.2v2.0M217.33 306.2v2.0M219.46 306.2v2.0M221.37 306.2v4.6M233.91 306.2v2.0M241.25 306.2v2.0M246.45 306.2v2.0M250.49 306.2v2.0M253.79 306.2v2.0M256.58 306.2v2.0M259 306.2v2.0M261.13 306.2v2.0M263.03 306.2v4.6M275.58 306.2v2.0M282.91 306.2v2.0M288.12 306.2v2.0M292.16 306.2v2.0M295.46 306.2v2.0M298.25 306.2v2.0M300.66 306.2v2.0M302.79 306.2v2.0M304.7 306.2v4.6" stroke="#222" stroke-width="1.2" fill="none"/>
<path d="M54.7 306.2h-4.6M54.7 295.9h-2.0M54.7 285.6h-2.0M54.7 275.3h-2.0M54.7 265h-2.0M54.7 254.7h-4.6M54.7 244.4h-2.0M54.7 234.1h-2.0M54.7 223.8h-2.0M54.7 213.5h-2.0M54.7 203.2h-4.6M54.7 192.9h-2.0M54.7 182.6h-2.0M54.7 172.3h-2.0M54.7 162h-2.0M54.7 151.7h-4.6M54.7 141.4h-2.0M54.7 131.1h-2.0M54.7 120.8h-2.0M54.7 110.5h-2.0M54.7 100.2h-4.6M54.7 89.9h-2.0M54.7 79.6h-2.0M54.7 69.3h-2.0M54.7 59h-2.0M54.7 48.7h-4.6" stroke="#222" stroke-width="1.2" fill="none"/>
<text x="43.59" y="328.6" font-size="12.8" fill="#222">10<tspan dx="1.9" dy="-5.2" font-size="10">1</tspan></text>
<text x="85.26" y="328.6" font-size="12.8" fill="#222">10<tspan dx="1.9" dy="-5.2" font-size="10">2</tspan></text>
<text x="126.92" y="328.6" font-size="12.8" fill="#222">10<tspan dx="1.9" dy="-5.2" font-size="10">3</tspan></text>
<text x="168.59" y="328.6" font-size="12.8" fill="#222">10<tspan dx="1.9" dy="-5.2" font-size="10">4</tspan></text>
<text x="210.26" y="328.6" font-size="12.8" fill="#222">10<tspan dx="1.9" dy="-5.2" font-size="10">5</tspan></text>
<text x="251.92" y="328.6" font-size="12.8" fill="#222">10<tspan dx="1.9" dy="-5.2" font-size="10">6</tspan></text>
<text x="293.59" y="328.6" font-size="12.8" fill="#222">10<tspan dx="1.9" dy="-5.2" font-size="10">7</tspan></text>
<text transform="translate(43.4 306.2) rotate(-90)" text-anchor="middle" font-size="12.8" fill="#222">0</text>
<text transform="translate(43.4 254.7) rotate(-90)" text-anchor="middle" font-size="12.8" fill="#222">0.6</text>
<text transform="translate(43.4 203.2) rotate(-90)" text-anchor="middle" font-size="12.8" fill="#222">1.2</text>
<text transform="translate(43.4 151.7) rotate(-90)" text-anchor="middle" font-size="12.8" fill="#222">1.8</text>
<text transform="translate(43.4 100.2) rotate(-90)" text-anchor="middle" font-size="12.8" fill="#222">2.4</text>
<text transform="translate(43.4 48.7) rotate(-90)" text-anchor="middle" font-size="12.8" fill="#222">3</text>
<text x="179.6" y="348.8" text-anchor="middle" font-size="12.4" fill="#222">FITC-ER-A</text>
<text transform="translate(22.9 177) rotate(-90)" text-anchor="middle" font-size="13.4" fill="#222">SSC-H&#160;&#160;(10<tspan dx="1.6" dy="-4.3" font-size="12.2">6</tspan><tspan dx="1.2" dy="4.3">)</tspan></text>
<path d="M363.9 46.9H614.9V304" fill="none" stroke="#222" stroke-width="1.4"/>
<path d="M363.9 46.2V304H615.6" fill="none" stroke="#222" stroke-width="1.6"/>
<path d="M363.9 304v4.6M377.64 304v2.0M385.67 304v2.0M391.38 304v2.0M395.8 304v2.0M399.41 304v2.0M402.47 304v2.0M405.11 304v2.0M407.45 304v2.0M409.54 304v4.6M423.27 304v2.0M431.31 304v2.0M437.01 304v2.0M441.43 304v2.0M445.05 304v2.0M448.1 304v2.0M450.75 304v2.0M453.08 304v2.0M455.17 304v4.6M468.91 304v2.0M476.95 304v2.0M482.65 304v2.0M487.07 304v2.0M490.68 304v2.0M493.74 304v2.0M496.39 304v2.0M498.72 304v2.0M500.81 304v4.6M514.55 304v2.0M522.58 304v2.0M528.28 304v2.0M532.71 304v2.0M536.32 304v2.0M539.38 304v2.0M542.02 304v2.0M544.36 304v2.0M546.45 304v4.6M560.18 304v2.0M568.22 304v2.0M573.92 304v2.0M578.34 304v2.0M581.96 304v2.0M585.01 304v2.0M587.66 304v2.0M589.99 304v2.0M592.08 304v4.6M605.82 304v2.0M613.86 304v2.0M614.9 304v4.6" stroke="#222" stroke-width="1.2" fill="none"/>
<path d="M363.9 304h-4.6M363.9 294.69h-2.0M363.9 285.38h-2.0M363.9 276.08h-2.0M363.9 266.77h-2.0M363.9 257.46h-4.6M363.9 248.15h-2.0M363.9 238.84h-2.0M363.9 229.54h-2.0M363.9 220.23h-2.0M363.9 210.92h-4.6M363.9 201.61h-2.0M363.9 192.3h-2.0M363.9 183h-2.0M363.9 173.69h-2.0M363.9 164.38h-4.6M363.9 155.07h-2.0M363.9 145.76h-2.0M363.9 136.46h-2.0M363.9 127.15h-2.0M363.9 117.84h-4.6M363.9 108.53h-2.0M363.9 99.22h-2.0M363.9 89.92h-2.0M363.9 80.61h-2.0M363.9 71.3h-4.6M363.9 61.99h-2.0M363.9 52.68h-2.0" stroke="#222" stroke-width="1.2" fill="none"/>
<text x="352.79" y="326.9" font-size="12.8" fill="#222">10<tspan dx="1.9" dy="-5.2" font-size="10">1</tspan></text>
<text x="398.43" y="326.9" font-size="12.8" fill="#222">10<tspan dx="1.9" dy="-5.2" font-size="10">2</tspan></text>
<text x="444.06" y="326.9" font-size="12.8" fill="#222">10<tspan dx="1.9" dy="-5.2" font-size="10">3</tspan></text>
<text x="489.7" y="326.9" font-size="12.8" fill="#222">10<tspan dx="1.9" dy="-5.2" font-size="10">4</tspan></text>
<text x="535.33" y="326.9" font-size="12.8" fill="#222">10<tspan dx="1.9" dy="-5.2" font-size="10">5</tspan></text>
<text x="598.02" y="326.9" font-size="12.8" fill="#222">10<tspan dx="1.9" dy="-5.2" font-size="10">6.5</tspan></text>
<text transform="translate(352.9 304) rotate(-90)" text-anchor="middle" font-size="12.8" fill="#222">0</text>
<text transform="translate(352.9 257.46) rotate(-90)" text-anchor="middle" font-size="12.8" fill="#222">20</text>
<text transform="translate(352.9 210.92) rotate(-90)" text-anchor="middle" font-size="12.8" fill="#222">40</text>
<text transform="translate(352.9 164.38) rotate(-90)" text-anchor="middle" font-size="12.8" fill="#222">60</text>
<text transform="translate(352.9 117.84) rotate(-90)" text-anchor="middle" font-size="12.8" fill="#222">80</text>
<text transform="translate(352.9 71.3) rotate(-90)" text-anchor="middle" font-size="12.8" fill="#222">100</text>
<text x="487.9" y="348" text-anchor="middle" font-size="12.4" fill="#222">FITC-ER-H</text>
<text transform="translate(332.4 176) rotate(-90)" text-anchor="middle" font-size="12.4" fill="#222">Count&#160;&#160;(%)</text>
<path d="M52.9 389.4H304V647.3" fill="none" stroke="#222" stroke-width="1.4"/>
<path d="M52.9 388.7V647.3H304.7" fill="none" stroke="#222" stroke-width="1.6"/>
<path d="M52.44 647.3v2.0M54.2 647.3v4.6M65.78 647.3v2.0M72.55 647.3v2.0M77.36 647.3v2.0M81.08 647.3v2.0M84.13 647.3v2.0M86.7 647.3v2.0M88.93 647.3v2.0M90.9 647.3v2.0M92.66 647.3v4.6M104.24 647.3v2.0M111.01 647.3v2.0M115.82 647.3v2.0M119.55 647.3v2.0M122.59 647.3v2.0M125.17 647.3v2.0M127.4 647.3v2.0M129.36 647.3v2.0M131.12 647.3v4.6M142.7 647.3v2.0M149.47 647.3v2.0M154.28 647.3v2.0M158.01 647.3v2.0M161.05 647.3v2.0M163.63 647.3v2.0M165.86 647.3v2.0M167.82 647.3v2.0M169.58 647.3v4.6M181.16 647.3v2.0M187.94 647.3v2.0M192.74 647.3v2.0M196.47 647.3v2.0M199.51 647.3v2.0M202.09 647.3v2.0M204.32 647.3v2.0M206.29 647.3v2.0M208.05 647.3v4.6M219.62 647.3v2.0M226.4 647.3v2.0M231.2 647.3v2.0M234.93 647.3v2.0M237.98 647.3v2.0M240.55 647.3v2.0M242.78 647.3v2.0M244.75 647.3v2.0M246.51 647.3v4.6M258.09 647.3v2.0M264.86 647.3v2.0M269.66 647.3v2.0M273.39 647.3v2.0M276.44 647.3v2.0M279.01 647.3v2.0M281.24 647.3v2.0M283.21 647.3v2.0M284.97 647.3v4.6M296.55 647.3v2.0M303.32 647.3v2.0M304 647.3v4.6" stroke="#222" stroke-width="1.2" fill="none"/>
<path d="M52.9 647.3h-4.6M52.9 637.06h-2.0M52.9 626.83h-2.0M52.9 616.59h-2.0M52.9 606.36h-2.0M52.9 596.12h-4.6M52.9 585.88h-2.0M52.9 575.65h-2.0M52.9 565.41h-2.0M52.9 555.18h-2.0M52.9 544.94h-4.6M52.9 534.7h-2.0M52.9 524.47h-2.0M52.9 514.23h-2.0M52.9 504h-2.0M52.9 493.76h-4.6M52.9 483.52h-2.0M52.9 473.29h-2.0M52.9 463.05h-2.0M52.9 452.82h-2.0M52.9 442.58h-4.6M52.9 432.34h-2.0M52.9 422.11h-2.0M52.9 411.87h-2.0M52.9 401.64h-2.0M52.9 391.4h-4.6" stroke="#222" stroke-width="1.2" fill="none"/>
<text x="43.09" y="669.7" font-size="12.8" fill="#222">10<tspan dx="1.9" dy="-5.2" font-size="10">0</tspan></text>
<text x="81.55" y="669.7" font-size="12.8" fill="#222">10<tspan dx="1.9" dy="-5.2" font-size="10">1</tspan></text>
<text x="120.01" y="669.7" font-size="12.8" fill="#222">10<tspan dx="1.9" dy="-5.2" font-size="10">2</tspan></text>
<text x="158.47" y="669.7" font-size="12.8" fill="#222">10<tspan dx="1.9" dy="-5.2" font-size="10">3</tspan></text>
<text x="196.94" y="669.7" font-size="12.8" fill="#222">10<tspan dx="1.9" dy="-5.2" font-size="10">4</tspan></text>
<text x="235.4" y="669.7" font-size="12.8" fill="#222">10<tspan dx="1.9" dy="-5.2" font-size="10">5</tspan></text>
<text x="287.57" y="669.7" font-size="12.8" fill="#222">10<tspan dx="1.9" dy="-5.2" font-size="10">6.5</tspan></text>
<text transform="translate(41.7 647.3) rotate(-90)" text-anchor="middle" font-size="12.8" fill="#222">0</text>
<text transform="translate(41.7 596.12) rotate(-90)" text-anchor="middle" font-size="12.8" fill="#222">0.6</text>
<text transform="translate(41.7 544.94) rotate(-90)" text-anchor="middle" font-size="12.8" fill="#222">1.2</text>
<text transform="translate(41.7 493.76) rotate(-90)" text-anchor="middle" font-size="12.8" fill="#222">1.8</text>
<text transform="translate(41.7 442.58) rotate(-90)" text-anchor="middle" font-size="12.8" fill="#222">2.4</text>
<text transform="translate(41.7 391.4) rotate(-90)" text-anchor="middle" font-size="12.8" fill="#222">3</text>
<text x="177.4" y="690" text-anchor="middle" font-size="12.4" fill="#222">APC-PR-A</text>
<text transform="translate(21.3 518.2) rotate(-90)" text-anchor="middle" font-size="13.4" fill="#222">SSC-H&#160;&#160;(10<tspan dx="1.6" dy="-4.3" font-size="12.2">6</tspan><tspan dx="1.2" dy="4.3">)</tspan></text>
<path d="M370.4 388.7H620.9V646.1" fill="none" stroke="#222" stroke-width="1.4"/>
<path d="M370.4 388V646.1H621.6" fill="none" stroke="#222" stroke-width="1.6"/>
<path d="M371.2 646.1v4.6M386.23 646.1v2.0M395.03 646.1v2.0M401.27 646.1v2.0M406.11 646.1v2.0M410.06 646.1v2.0M413.4 646.1v2.0M416.3 646.1v2.0M418.85 646.1v2.0M421.14 646.1v4.6M436.17 646.1v2.0M444.97 646.1v2.0M451.21 646.1v2.0M456.05 646.1v2.0M460 646.1v2.0M463.34 646.1v2.0M466.24 646.1v2.0M468.79 646.1v2.0M471.08 646.1v4.6M486.11 646.1v2.0M494.91 646.1v2.0M501.15 646.1v2.0M505.99 646.1v2.0M509.94 646.1v2.0M513.28 646.1v2.0M516.18 646.1v2.0M518.73 646.1v2.0M521.02 646.1v4.6M536.05 646.1v2.0M544.85 646.1v2.0M551.09 646.1v2.0M555.93 646.1v2.0M559.88 646.1v2.0M563.22 646.1v2.0M566.12 646.1v2.0M568.67 646.1v2.0M570.96 646.1v4.6M585.99 646.1v2.0M594.79 646.1v2.0M601.03 646.1v2.0M605.87 646.1v2.0M609.82 646.1v2.0M613.16 646.1v2.0M616.06 646.1v2.0M618.61 646.1v2.0M620.9 646.1v4.6" stroke="#222" stroke-width="1.2" fill="none"/>
<path d="M370.4 646.1h-4.6M370.4 636.8h-2.0M370.4 627.49h-2.0M370.4 618.19h-2.0M370.4 608.88h-2.0M370.4 599.58h-4.6M370.4 590.28h-2.0M370.4 580.97h-2.0M370.4 571.67h-2.0M370.4 562.36h-2.0M370.4 553.06h-4.6M370.4 543.76h-2.0M370.4 534.45h-2.0M370.4 525.15h-2.0M370.4 515.84h-2.0M370.4 506.54h-4.6M370.4 497.24h-2.0M370.4 487.93h-2.0M370.4 478.63h-2.0M370.4 469.32h-2.0M370.4 460.02h-4.6M370.4 450.72h-2.0M370.4 441.41h-2.0M370.4 432.11h-2.0M370.4 422.8h-2.0M370.4 413.5h-4.6M370.4 404.2h-2.0M370.4 394.89h-2.0" stroke="#222" stroke-width="1.2" fill="none"/>
<text x="360.09" y="669" font-size="12.8" fill="#222">10<tspan dx="1.9" dy="-5.2" font-size="10">1</tspan></text>
<text x="410.03" y="669" font-size="12.8" fill="#222">10<tspan dx="1.9" dy="-5.2" font-size="10">2</tspan></text>
<text x="459.97" y="669" font-size="12.8" fill="#222">10<tspan dx="1.9" dy="-5.2" font-size="10">3</tspan></text>
<text x="509.91" y="669" font-size="12.8" fill="#222">10<tspan dx="1.9" dy="-5.2" font-size="10">4</tspan></text>
<text x="559.85" y="669" font-size="12.8" fill="#222">10<tspan dx="1.9" dy="-5.2" font-size="10">5</tspan></text>
<text x="609.79" y="669" font-size="12.8" fill="#222">10<tspan dx="1.9" dy="-5.2" font-size="10">6</tspan></text>
<text transform="translate(359.3 646.1) rotate(-90)" text-anchor="middle" font-size="12.8" fill="#222">0</text>
<text transform="translate(359.3 599.58) rotate(-90)" text-anchor="middle" font-size="12.8" fill="#222">20</text>
<text transform="translate(359.3 553.06) rotate(-90)" text-anchor="middle" font-size="12.8" fill="#222">40</text>
<text transform="translate(359.3 506.54) rotate(-90)" text-anchor="middle" font-size="12.8" fill="#222">60</text>
<text transform="translate(359.3 460.02) rotate(-90)" text-anchor="middle" font-size="12.8" fill="#222">80</text>
<text transform="translate(359.3 413.5) rotate(-90)" text-anchor="middle" font-size="12.8" fill="#222">100</text>
<text x="494.7" y="689.2" text-anchor="middle" font-size="12.4" fill="#222">APC-PR-A</text>
<text transform="translate(338.2 518) rotate(-90)" text-anchor="middle" font-size="12.4" fill="#222">Count&#160;&#160;(%)</text>
<path d="M62.6 732.1H313.3V990.1" fill="none" stroke="#222" stroke-width="1.4"/>
<path d="M62.6 731.4V990.1H314" fill="none" stroke="#222" stroke-width="1.6"/>
<path d="M62.3 990.1v2.0M64.2 990.1v4.6M76.68 990.1v2.0M83.98 990.1v2.0M89.16 990.1v2.0M93.17 990.1v2.0M96.45 990.1v2.0M99.23 990.1v2.0M101.63 990.1v2.0M103.75 990.1v2.0M105.65 990.1v4.6M118.13 990.1v2.0M125.43 990.1v2.0M130.61 990.1v2.0M134.62 990.1v2.0M137.9 990.1v2.0M140.68 990.1v2.0M143.08 990.1v2.0M145.2 990.1v2.0M147.1 990.1v4.6M159.58 990.1v2.0M166.88 990.1v2.0M172.06 990.1v2.0M176.07 990.1v2.0M179.35 990.1v2.0M182.13 990.1v2.0M184.53 990.1v2.0M186.65 990.1v2.0M188.55 990.1v4.6M201.03 990.1v2.0M208.33 990.1v2.0M213.51 990.1v2.0M217.52 990.1v2.0M220.8 990.1v2.0M223.58 990.1v2.0M225.98 990.1v2.0M228.1 990.1v2.0M230 990.1v4.6M242.48 990.1v2.0M249.78 990.1v2.0M254.96 990.1v2.0M258.97 990.1v2.0M262.25 990.1v2.0M265.03 990.1v2.0M267.43 990.1v2.0M269.55 990.1v2.0M271.45 990.1v4.6M283.93 990.1v2.0M291.23 990.1v2.0M296.41 990.1v2.0M300.42 990.1v2.0M303.7 990.1v2.0M306.48 990.1v2.0M308.88 990.1v2.0M311 990.1v2.0M312.9 990.1v4.6" stroke="#222" stroke-width="1.2" fill="none"/>
<path d="M62.6 990.1h-4.6M62.6 981.5h-2.0M62.6 972.9h-2.0M62.6 964.3h-2.0M62.6 955.7h-2.0M62.6 947.1h-4.6M62.6 938.5h-2.0M62.6 929.9h-2.0M62.6 921.3h-2.0M62.6 912.7h-2.0M62.6 904.1h-4.6M62.6 895.5h-2.0M62.6 886.9h-2.0M62.6 878.3h-2.0M62.6 869.7h-2.0M62.6 861.1h-4.6M62.6 852.5h-2.0M62.6 843.9h-2.0M62.6 835.3h-2.0M62.6 826.7h-2.0M62.6 818.1h-4.6M62.6 809.5h-2.0M62.6 800.9h-2.0M62.6 792.3h-2.0M62.6 783.7h-2.0M62.6 775.1h-4.6M62.6 766.5h-2.0M62.6 757.9h-2.0M62.6 749.3h-2.0M62.6 740.7h-2.0M62.6 732.1h-4.6" stroke="#222" stroke-width="1.2" fill="none"/>
<text x="53.09" y="1012.1" font-size="12.8" fill="#222">10<tspan dx="1.9" dy="-5.2" font-size="10">0</tspan></text>
<text x="94.54" y="1012.1" font-size="12.8" fill="#222">10<tspan dx="1.9" dy="-5.2" font-size="10">1</tspan></text>
<text x="135.99" y="1012.1" font-size="12.8" fill="#222">10<tspan dx="1.9" dy="-5.2" font-size="10">2</tspan></text>
<text x="177.44" y="1012.1" font-size="12.8" fill="#222">10<tspan dx="1.9" dy="-5.2" font-size="10">3</tspan></text>
<text x="218.89" y="1012.1" font-size="12.8" fill="#222">10<tspan dx="1.9" dy="-5.2" font-size="10">4</tspan></text>
<text x="260.34" y="1012.1" font-size="12.8" fill="#222">10<tspan dx="1.9" dy="-5.2" font-size="10">5</tspan></text>
<text x="301.79" y="1012.1" font-size="12.8" fill="#222">10<tspan dx="1.9" dy="-5.2" font-size="10">6</tspan></text>
<text transform="translate(51.1 990.1) rotate(-90)" text-anchor="middle" font-size="12.8" fill="#222">0</text>
<text transform="translate(51.1 947.1) rotate(-90)" text-anchor="middle" font-size="12.8" fill="#222">1</text>
<text transform="translate(51.1 904.1) rotate(-90)" text-anchor="middle" font-size="12.8" fill="#222">2</text>
<text transform="translate(51.1 861.1) rotate(-90)" text-anchor="middle" font-size="12.8" fill="#222">3</text>
<text transform="translate(51.1 818.1) rotate(-90)" text-anchor="middle" font-size="12.8" fill="#222">4</text>
<text transform="translate(51.1 775.1) rotate(-90)" text-anchor="middle" font-size="12.8" fill="#222">5</text>
<text transform="translate(51.1 732.1) rotate(-90)" text-anchor="middle" font-size="12.8" fill="#222">6</text>
<text x="185.7" y="1032.5" text-anchor="middle" font-size="12.4" fill="#222">APC-F750-Her2neu-H</text>
<text transform="translate(31.2 861.2) rotate(-90)" text-anchor="middle" font-size="13.4" fill="#222">SSC-H&#160;&#160;(10<tspan dx="1.6" dy="-4.3" font-size="12.2">6</tspan><tspan dx="1.2" dy="4.3">)</tspan></text>
<path d="M375.4 737.1H626V993.7" fill="none" stroke="#222" stroke-width="1.4"/>
<path d="M375.4 736.4V993.7H626.7" fill="none" stroke="#222" stroke-width="1.6"/>
<path d="M374.93 993.7v2.0M376.34 993.7v2.0M377.6 993.7v4.6M385.91 993.7v2.0M390.77 993.7v2.0M394.22 993.7v2.0M396.89 993.7v2.0M399.08 993.7v2.0M400.92 993.7v2.0M402.53 993.7v2.0M403.94 993.7v2.0M405.2 993.7v4.6M413.51 993.7v2.0M418.37 993.7v2.0M421.82 993.7v2.0M424.49 993.7v2.0M426.68 993.7v2.0M428.52 993.7v2.0M430.13 993.7v2.0M431.54 993.7v2.0M432.8 993.7v4.6M441.11 993.7v2.0M445.97 993.7v2.0M449.42 993.7v2.0M452.09 993.7v2.0M454.28 993.7v2.0M456.12 993.7v2.0M457.73 993.7v2.0M459.14 993.7v2.0M460.4 993.7v4.6M468.71 993.7v2.0M473.57 993.7v2.0M477.02 993.7v2.0M479.69 993.7v2.0M481.88 993.7v2.0M483.72 993.7v2.0M485.33 993.7v2.0M486.74 993.7v2.0M488 993.7v4.6M496.31 993.7v2.0M501.17 993.7v2.0M504.62 993.7v2.0M507.29 993.7v2.0M509.48 993.7v2.0M511.32 993.7v2.0M512.93 993.7v2.0M514.34 993.7v2.0M515.6 993.7v4.6M523.91 993.7v2.0M528.77 993.7v2.0M532.22 993.7v2.0M534.89 993.7v2.0M537.08 993.7v2.0M538.92 993.7v2.0M540.53 993.7v2.0M541.94 993.7v2.0M543.2 993.7v4.6M551.51 993.7v2.0M556.37 993.7v2.0M559.82 993.7v2.0M562.49 993.7v2.0M564.68 993.7v2.0M566.52 993.7v2.0M568.13 993.7v2.0M569.54 993.7v2.0M570.8 993.7v4.6M579.11 993.7v2.0M583.97 993.7v2.0M587.42 993.7v2.0M590.09 993.7v2.0M592.28 993.7v2.0M594.12 993.7v2.0M595.73 993.7v2.0M597.14 993.7v2.0M598.4 993.7v4.6M606.71 993.7v2.0M611.57 993.7v2.0M615.02 993.7v2.0M617.69 993.7v2.0M619.88 993.7v2.0M621.72 993.7v2.0M623.33 993.7v2.0M624.74 993.7v2.0M626 993.7v4.6" stroke="#222" stroke-width="1.2" fill="none"/>
<path d="M375.4 993.7h-4.6M375.4 984.41h-2.0M375.4 975.12h-2.0M375.4 965.82h-2.0M375.4 956.53h-2.0M375.4 947.24h-4.6M375.4 937.95h-2.0M375.4 928.66h-2.0M375.4 919.36h-2.0M375.4 910.07h-2.0M375.4 900.78h-4.6M375.4 891.49h-2.0M375.4 882.2h-2.0M375.4 872.9h-2.0M375.4 863.61h-2.0M375.4 854.32h-4.6M375.4 845.03h-2.0M375.4 835.74h-2.0M375.4 826.44h-2.0M375.4 817.15h-2.0M375.4 807.86h-4.6M375.4 798.57h-2.0M375.4 789.28h-2.0M375.4 779.98h-2.0M375.4 770.69h-2.0M375.4 761.4h-4.6M375.4 752.11h-2.0M375.4 742.82h-2.0" stroke="#222" stroke-width="1.2" fill="none"/>
<text x="366.49" y="1016.6" font-size="12.8" fill="#222">10<tspan dx="1.9" dy="-5.2" font-size="10">0</tspan></text>
<text x="394.09" y="1016.6" font-size="12.8" fill="#222">10<tspan dx="1.9" dy="-5.2" font-size="10">1</tspan></text>
<text x="449.29" y="1016.6" font-size="12.8" fill="#222">10<tspan dx="1.9" dy="-5.2" font-size="10">3</tspan></text>
<text x="504.49" y="1016.6" font-size="12.8" fill="#222">10<tspan dx="1.9" dy="-5.2" font-size="10">5</tspan></text>
<text x="559.69" y="1016.6" font-size="12.8" fill="#222">10<tspan dx="1.9" dy="-5.2" font-size="10">7</tspan></text>
<text x="614.89" y="1016.6" font-size="12.8" fill="#222">10<tspan dx="1.9" dy="-5.2" font-size="10">9</tspan></text>
<text transform="translate(363.9 993.7) rotate(-90)" text-anchor="middle" font-size="12.8" fill="#222">0</text>
<text transform="translate(363.9 947.24) rotate(-90)" text-anchor="middle" font-size="12.8" fill="#222">20</text>
<text transform="translate(363.9 900.78) rotate(-90)" text-anchor="middle" font-size="12.8" fill="#222">40</text>
<text transform="translate(363.9 854.32) rotate(-90)" text-anchor="middle" font-size="12.8" fill="#222">60</text>
<text transform="translate(363.9 807.86) rotate(-90)" text-anchor="middle" font-size="12.8" fill="#222">80</text>
<text transform="translate(363.9 761.4) rotate(-90)" text-anchor="middle" font-size="12.8" fill="#222">100</text>
<text x="498.8" y="1037.6" text-anchor="middle" font-size="12.4" fill="#222">APC-F750-Her2neu-H</text>
<text transform="translate(343.5 865.8) rotate(-90)" text-anchor="middle" font-size="12.4" fill="#222">Count&#160;&#160;(%)</text>
</svg>
</body></html>
